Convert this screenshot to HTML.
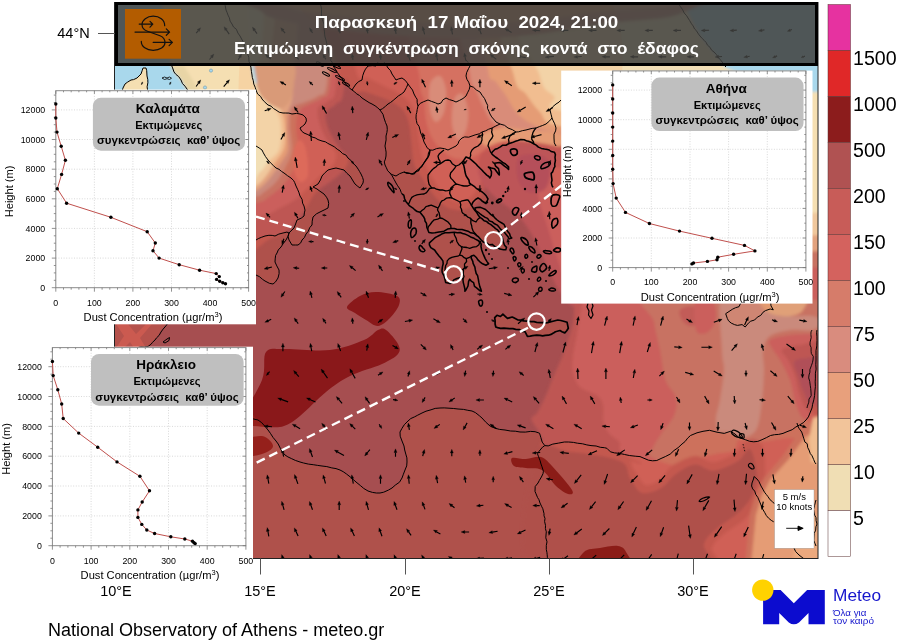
<!DOCTYPE html>
<html lang="el"><head><meta charset="utf-8"><title>Εκτιμώμενη συγκέντρωση σκόνης</title>
<style>
html,body{margin:0;padding:0;background:#fff;}
body{width:903px;height:641px;overflow:hidden;font-family:"Liberation Sans", sans-serif;}
svg{display:block;position:absolute;left:0;top:0;}
text{font-family:"Liberation Sans", sans-serif;}
</style></head><body>
<svg width="903" height="641" viewBox="0 0 903 641">
<defs><clipPath id="mapclip"><rect x="115" y="2" width="703" height="556.8"/></clipPath><filter id="bl" x="-5%" y="-5%" width="110%" height="110%"><feGaussianBlur stdDeviation="1.6"/></filter></defs>
<g clip-path="url(#mapclip)">
<rect x="100" y="0" width="730" height="570" fill="#a64e50"/>
<g filter="url(#bl)">
<path d="M215.0,-10.0 C237.5,-53.0 328.5,-26.3 350.0,-10.0 C371.5,6.3 346.3,69.0 344.0,88.0 C341.7,107.0 339.0,100.0 336.0,104.0 C333.0,108.0 327.3,108.0 326.0,112.0 C324.7,116.0 326.0,122.3 328.0,128.0 C330.0,133.7 334.7,141.0 338.0,146.0 C341.3,151.0 347.0,154.0 348.0,158.0 C349.0,162.0 347.0,166.0 344.0,170.0 C341.0,174.0 334.7,178.3 330.0,182.0 C325.3,185.7 320.0,187.7 316.0,192.0 C312.0,196.3 310.0,202.3 306.0,208.0 C302.0,213.7 297.7,221.0 292.0,226.0 C286.3,231.0 284.8,234.3 272.0,238.0 C259.2,241.7 224.5,289.3 215.0,248.0 C205.5,206.7 192.5,33.0 215.0,-10.0Z" fill="#be5753" />
<path d="M215.0,-10.0 C235.8,-48.7 319.8,-26.0 340.0,-10.0 C360.2,6.0 338.0,67.5 336.0,86.0 C334.0,104.5 331.0,97.3 328.0,101.0 C325.0,104.7 319.3,104.0 318.0,108.0 C316.7,112.0 318.3,119.3 320.0,125.0 C321.7,130.7 325.3,137.2 328.0,142.0 C330.7,146.8 335.3,150.0 336.0,154.0 C336.7,158.0 334.7,162.3 332.0,166.0 C329.3,169.7 324.0,172.3 320.0,176.0 C316.0,179.7 312.0,184.2 308.0,188.0 C304.0,191.8 300.7,195.7 296.0,199.0 C291.3,202.3 285.7,205.2 280.0,208.0 C274.3,210.8 272.8,213.7 262.0,216.0 C251.2,218.3 222.8,259.7 215.0,222.0 C207.2,184.3 194.2,28.7 215.0,-10.0Z" fill="#cb5f5c" />
<path d="M215.0,-10.0 C234.8,-46.0 314.8,-25.7 334.0,-10.0 C353.2,5.7 332.0,66.0 330.0,84.0 C328.0,102.0 325.3,94.7 322.0,98.0 C318.7,101.3 313.7,102.0 310.0,104.0 C306.3,106.0 302.3,106.5 300.0,110.0 C297.7,113.5 296.3,118.3 296.0,125.0 C295.7,131.7 298.3,142.8 298.0,150.0 C297.7,157.2 296.3,162.3 294.0,168.0 C291.7,173.7 288.0,179.3 284.0,184.0 C280.0,188.7 274.7,192.8 270.0,196.0 C265.3,199.2 265.2,201.3 256.0,203.0 C246.8,204.7 221.8,241.5 215.0,206.0 C208.2,170.5 195.2,26.0 215.0,-10.0Z" fill="#c87262" />
<path d="M215.0,-10.0 C234.2,-45.0 311.3,-25.3 330.0,-10.0 C348.7,5.3 329.0,64.3 327.0,82.0 C325.0,99.7 321.7,92.7 318.0,96.0 C314.3,99.3 309.3,100.0 305.0,102.0 C300.7,104.0 294.5,104.2 292.0,108.0 C289.5,111.8 290.0,118.0 290.0,125.0 C290.0,132.0 292.7,143.2 292.0,150.0 C291.3,156.8 288.7,160.7 286.0,166.0 C283.3,171.3 279.7,177.7 276.0,182.0 C272.3,186.3 267.7,189.5 264.0,192.0 C260.3,194.5 262.2,195.7 254.0,197.0 C245.8,198.3 221.5,234.5 215.0,200.0 C208.5,165.5 195.8,25.0 215.0,-10.0Z" fill="#ca8a7c" />
<path d="M215.0,-10.0 C227.8,-44.0 279.0,-25.0 292.0,-10.0 C305.0,5.0 293.0,61.7 293.0,80.0 C293.0,98.3 292.8,94.7 292.0,100.0 C291.2,105.3 288.8,107.0 288.0,112.0 C287.2,117.0 287.0,123.7 287.0,130.0 C287.0,136.3 289.2,144.3 288.0,150.0 C286.8,155.7 283.0,159.3 280.0,164.0 C277.0,168.7 273.3,174.0 270.0,178.0 C266.7,182.0 263.3,185.7 260.0,188.0 C256.7,190.3 257.5,191.0 250.0,192.0 C242.5,193.0 220.8,227.7 215.0,194.0 C209.2,160.3 202.2,24.0 215.0,-10.0Z" fill="#e2a27e" />
<path d="M215.0,-10.0 C220.3,-43.3 263.2,-25.0 272.0,-10.0 C280.8,5.0 268.0,61.7 268.0,80.0 C268.0,98.3 269.7,94.7 272.0,100.0 C274.3,105.3 279.8,107.3 282.0,112.0 C284.2,116.7 284.7,122.0 285.0,128.0 C285.3,134.0 285.8,142.0 284.0,148.0 C282.2,154.0 277.0,159.3 274.0,164.0 C271.0,168.7 269.0,172.3 266.0,176.0 C263.0,179.7 260.3,183.7 256.0,186.0 C251.7,188.3 246.8,222.7 240.0,190.0 C233.2,157.3 209.7,23.3 215.0,-10.0Z" fill="#f0c79c" />
<path d="M215.0,-10.0 C218.7,-41.7 254.8,-25.7 262.0,-10.0 C269.2,5.7 257.3,65.3 258.0,84.0 C258.7,102.7 262.7,97.0 266.0,102.0 C269.3,107.0 275.5,109.3 278.0,114.0 C280.5,118.7 280.8,124.0 281.0,130.0 C281.2,136.0 281.2,144.7 279.0,150.0 C276.8,155.3 271.2,158.3 268.0,162.0 C264.8,165.7 264.7,169.0 260.0,172.0 C255.3,175.0 247.5,210.3 240.0,180.0 C232.5,149.7 211.3,21.7 215.0,-10.0Z" fill="#f2dfb6" />
<path d="M252.0,64.0 C258.2,61.3 285.0,60.7 292.0,64.0 C299.0,67.3 294.3,78.0 294.0,84.0 C293.7,90.0 292.0,96.0 290.0,100.0 C288.0,104.0 285.3,107.3 282.0,108.0 C278.7,108.7 273.7,106.3 270.0,104.0 C266.3,101.7 262.5,98.0 260.0,94.0 C257.5,90.0 256.3,85.0 255.0,80.0 C253.7,75.0 245.8,66.7 252.0,64.0Z" fill="#d99a78" />
<path d="M294.0,150.0 C295.0,145.0 298.0,140.0 300.0,140.0 C302.0,140.0 304.7,144.2 306.0,150.0 C307.3,155.8 309.0,169.7 308.0,175.0 C307.0,180.3 302.3,182.8 300.0,182.0 C297.7,181.2 295.0,175.3 294.0,170.0 C293.0,164.7 293.0,155.0 294.0,150.0Z" fill="#da6a60" />
<polygon points="100,-10 246,-10 250,40 251,67 256,90 262,99 262,112 100,112" fill="#f5dfb2" />
<polygon points="100,-10 160,-10 171,66 174,72 181,80 188,92 100,92" fill="#a9d8ec" />
<polygon points="171,66 184,66 200,92 188,92 181,80 174,72" fill="#e8d5a6" />
<polygon points="251,60 254,66 257,84 254,82 252,72" fill="#a9d8ec" />
<path d="M336.0,-10.0 C378.0,-25.3 556.0,-38.3 600.0,-10.0 C644.0,18.3 606.7,133.3 600.0,160.0 C593.3,186.7 573.3,152.3 560.0,150.0 C546.7,147.7 530.0,146.0 520.0,146.0 C510.0,146.0 504.7,146.0 500.0,150.0 C495.3,154.0 494.7,163.3 492.0,170.0 C489.3,176.7 486.7,184.3 484.0,190.0 C481.3,195.7 479.7,200.7 476.0,204.0 C472.3,207.3 466.7,209.3 462.0,210.0 C457.3,210.7 452.0,209.7 448.0,208.0 C444.0,206.3 441.0,203.0 438.0,200.0 C435.0,197.0 432.7,193.7 430.0,190.0 C427.3,186.3 424.7,182.3 422.0,178.0 C419.3,173.7 415.8,170.3 414.0,164.0 C412.2,157.7 411.8,146.7 411.0,140.0 C410.2,133.3 410.3,129.0 409.0,124.0 C407.7,119.0 406.5,114.0 403.0,110.0 C399.5,106.0 394.2,103.0 388.0,100.0 C381.8,97.0 372.7,95.0 366.0,92.0 C359.3,89.0 353.0,99.0 348.0,82.0 C343.0,65.0 294.0,5.3 336.0,-10.0Z" fill="#be5753" />
<path d="M352.0,-10.0 C392.7,-23.3 558.7,-36.7 600.0,-10.0 C641.3,16.7 606.7,124.3 600.0,150.0 C593.3,175.7 573.3,145.3 560.0,144.0 C546.7,142.7 530.3,141.7 520.0,142.0 C509.7,142.3 503.3,142.0 498.0,146.0 C492.7,150.0 491.0,159.7 488.0,166.0 C485.0,172.3 483.0,178.7 480.0,184.0 C477.0,189.3 473.7,195.0 470.0,198.0 C466.3,201.0 461.7,202.0 458.0,202.0 C454.3,202.0 451.0,200.0 448.0,198.0 C445.0,196.0 442.3,193.0 440.0,190.0 C437.7,187.0 436.2,183.7 434.0,180.0 C431.8,176.3 429.0,172.0 427.0,168.0 C425.0,164.0 423.3,160.7 422.0,156.0 C420.7,151.3 419.8,145.3 419.0,140.0 C418.2,134.7 418.2,129.7 417.0,124.0 C415.8,118.3 414.8,111.0 412.0,106.0 C409.2,101.0 404.7,97.3 400.0,94.0 C395.3,90.7 389.3,88.7 384.0,86.0 C378.7,83.3 372.7,80.7 368.0,78.0 C363.3,75.3 358.7,84.7 356.0,70.0 C353.3,55.3 311.3,3.3 352.0,-10.0Z" fill="#cb5f5c" />
<path d="M420.0,-10.0 C450.0,-25.0 570.0,-36.0 600.0,-10.0 C630.0,16.0 606.7,121.0 600.0,146.0 C593.3,171.0 573.3,141.7 560.0,140.0 C546.7,138.3 530.3,136.3 520.0,136.0 C509.7,135.7 504.0,135.7 498.0,138.0 C492.0,140.3 488.7,146.7 484.0,150.0 C479.3,153.3 475.0,156.7 470.0,158.0 C465.0,159.3 458.7,159.3 454.0,158.0 C449.3,156.7 445.7,153.3 442.0,150.0 C438.3,146.7 434.7,143.0 432.0,138.0 C429.3,133.0 427.3,126.3 426.0,120.0 C424.7,113.7 425.0,106.7 424.0,100.0 C423.0,93.3 420.7,98.3 420.0,80.0 C419.3,61.7 390.0,5.0 420.0,-10.0Z" fill="#d17267" />
<path d="M430.0,84.0 C431.7,78.3 437.3,75.0 440.0,76.0 C442.7,77.0 445.3,84.0 446.0,90.0 C446.7,96.0 445.7,106.7 444.0,112.0 C442.3,117.3 438.3,122.3 436.0,122.0 C433.7,121.7 431.0,116.3 430.0,110.0 C429.0,103.7 428.3,89.7 430.0,84.0Z" fill="#d59083" />
<path d="M454.0,100.0 C455.7,95.0 459.7,92.3 462.0,94.0 C464.3,95.7 467.3,104.0 468.0,110.0 C468.7,116.0 467.7,125.0 466.0,130.0 C464.3,135.0 460.3,141.0 458.0,140.0 C455.7,139.0 452.7,130.7 452.0,124.0 C451.3,117.3 452.3,105.0 454.0,100.0Z" fill="#d59083" />
<path d="M464.0,-10.0 C485.7,-24.0 577.3,-35.0 600.0,-10.0 C622.7,15.0 606.7,115.7 600.0,140.0 C593.3,164.3 572.0,137.7 560.0,136.0 C548.0,134.3 537.0,131.3 528.0,130.0 C519.0,128.7 512.0,129.3 506.0,128.0 C500.0,126.7 495.7,125.3 492.0,122.0 C488.3,118.7 486.7,113.3 484.0,108.0 C481.3,102.7 478.3,95.7 476.0,90.0 C473.7,84.3 472.0,90.7 470.0,74.0 C468.0,57.3 442.3,4.0 464.0,-10.0Z" fill="#d59083" />
<path d="M484.0,-10.0 C509.3,-23.3 614.0,-34.3 640.0,-10.0 C666.0,14.3 653.3,112.3 640.0,136.0 C626.7,159.7 578.0,134.0 560.0,132.0 C542.0,130.0 539.3,127.3 532.0,124.0 C524.7,120.7 520.3,116.7 516.0,112.0 C511.7,107.3 509.3,101.0 506.0,96.0 C502.7,91.0 499.0,86.3 496.0,82.0 C493.0,77.7 490.0,85.3 488.0,70.0 C486.0,54.7 458.7,3.3 484.0,-10.0Z" fill="#e2a27e" />
<path d="M504.0,-10.0 C528.3,-24.3 634.0,-33.3 660.0,-10.0 C686.0,13.3 676.7,107.3 660.0,130.0 C643.3,152.7 580.0,129.0 560.0,126.0 C540.0,123.0 545.7,117.3 540.0,112.0 C534.3,106.7 530.3,100.0 526.0,94.0 C521.7,88.0 517.7,93.3 514.0,76.0 C510.3,58.7 479.7,4.3 504.0,-10.0Z" fill="#f0c79c" />
<path d="M530.0,-10.0 C579.2,-24.3 784.2,-47.5 835.0,-10.0 C885.8,27.5 840.8,177.5 835.0,215.0 C829.2,252.5 805.8,230.8 800.0,215.0 C794.2,199.2 838.0,137.2 800.0,120.0 C762.0,102.8 613.0,116.0 572.0,112.0 C531.0,108.0 559.3,102.0 554.0,96.0 C548.7,90.0 544.0,93.7 540.0,76.0 C536.0,58.3 480.8,4.3 530.0,-10.0Z" fill="#f2dfb6" />
<polygon points="676,-10 835,-10 835,92 800,92 760,80 726,68 700,36" fill="#a9d8ec" />
<path d="M480.0,136.0 C482.3,133.0 491.7,129.0 500.0,128.0 C508.3,127.0 519.7,129.0 530.0,130.0 C540.3,131.0 556.7,131.3 562.0,134.0 C567.3,136.7 565.7,144.5 562.0,146.0 C558.3,147.5 547.0,144.0 540.0,143.0 C533.0,142.0 526.7,140.2 520.0,140.0 C513.3,139.8 505.7,141.0 500.0,142.0 C494.3,143.0 489.3,147.0 486.0,146.0 C482.7,145.0 477.7,139.0 480.0,136.0Z" fill="#e2a27e" />
<path d="M486.0,150.0 C493.0,146.8 507.3,146.0 520.0,146.0 C532.7,146.0 552.0,141.0 562.0,150.0 C572.0,159.0 577.0,175.7 580.0,200.0 C583.0,224.3 581.0,278.3 580.0,296.0 C579.0,313.7 576.3,305.3 574.0,306.0 C571.7,306.7 569.0,303.5 566.0,300.0 C563.0,296.5 559.5,291.3 556.0,285.0 C552.5,278.7 548.5,269.5 545.0,262.0 C541.5,254.5 538.8,247.0 535.0,240.0 C531.2,233.0 526.5,225.5 522.0,220.0 C517.5,214.5 512.5,210.8 508.0,207.0 C503.5,203.2 499.3,201.2 495.0,197.0 C490.7,192.8 484.8,187.3 482.0,182.0 C479.2,176.7 477.3,170.3 478.0,165.0 C478.7,159.7 479.0,153.2 486.0,150.0Z" fill="#bd5559" />
<path d="M540.0,180.0 C543.7,174.7 554.0,165.3 561.0,168.0 C568.0,170.7 578.5,174.7 582.0,196.0 C585.5,217.3 584.0,279.3 582.0,296.0 C580.0,312.7 573.5,300.3 570.0,296.0 C566.5,291.7 563.8,278.5 561.0,270.0 C558.2,261.5 555.5,253.0 553.0,245.0 C550.5,237.0 548.3,229.5 546.0,222.0 C543.7,214.5 540.0,207.0 539.0,200.0 C538.0,193.0 536.3,185.3 540.0,180.0Z" fill="#cb5f5c" />
<path d="M518.0,158.0 C520.7,153.7 529.0,153.7 534.0,154.0 C539.0,154.3 545.3,156.3 548.0,160.0 C550.7,163.7 550.7,171.0 550.0,176.0 C549.3,181.0 547.7,187.3 544.0,190.0 C540.3,192.7 532.3,193.7 528.0,192.0 C523.7,190.3 519.7,185.7 518.0,180.0 C516.3,174.3 515.3,162.3 518.0,158.0Z" fill="#b5505a" />
<path d="M574.0,288.0 C578.3,285.0 556.5,286.3 600.0,286.0 C643.5,285.7 795.8,255.3 835.0,286.0 C874.2,316.7 867.5,439.3 835.0,470.0 C802.5,500.7 677.5,472.0 640.0,470.0 C602.5,468.0 620.0,461.0 610.0,458.0 C600.0,455.0 588.3,453.7 580.0,452.0 C571.7,450.3 566.2,450.2 560.0,448.0 C553.8,445.8 546.7,441.6 543.0,438.5 C539.3,435.4 539.6,432.9 537.7,429.6 C535.8,426.4 531.5,421.9 531.5,419.0 C531.5,416.1 535.2,416.2 537.7,412.0 C540.2,407.8 544.2,399.3 546.6,394.0 C549.0,388.7 549.1,387.0 552.0,380.0 C554.9,373.0 560.5,361.5 564.0,352.0 C567.5,342.5 571.3,331.0 573.0,323.0 C574.7,315.0 573.8,309.8 574.0,304.0 C574.2,298.2 569.7,291.0 574.0,288.0Z" fill="#be5753" />
<path d="M582.0,288.0 C585.0,285.0 557.8,286.3 600.0,286.0 C642.2,285.7 795.8,256.0 835.0,286.0 C874.2,316.0 864.2,436.0 835.0,466.0 C805.8,496.0 692.5,466.7 660.0,466.0 C627.5,465.3 646.5,464.5 640.0,462.0 C633.5,459.5 624.5,454.3 621.0,451.0 C617.5,447.7 621.3,445.0 619.3,442.0 C617.2,439.0 611.4,436.5 608.7,433.0 C606.0,429.5 604.2,425.2 603.3,420.8 C602.4,416.4 604.2,410.7 603.3,406.6 C602.4,402.5 601.9,399.3 598.0,396.0 C594.1,392.7 584.2,391.0 580.0,387.0 C575.8,383.0 574.2,377.2 573.0,372.0 C571.8,366.8 572.3,362.3 573.0,356.0 C573.7,349.7 575.5,342.7 577.0,334.0 C578.5,325.3 580.9,311.7 581.7,304.0 C582.5,296.3 579.0,291.0 582.0,288.0Z" fill="#cb5f5c" />
<path d="M652.0,290.0 C682.2,284.7 804.5,265.0 835.0,290.0 C865.5,315.0 842.5,415.3 835.0,440.0 C827.5,464.7 802.5,437.7 790.0,438.0 C777.5,438.3 769.2,441.7 760.0,442.0 C750.8,442.3 742.5,439.7 735.0,440.0 C727.5,440.3 722.5,442.0 715.0,444.0 C707.5,446.0 697.8,449.3 690.0,452.0 C682.2,454.7 674.5,459.3 668.0,460.0 C661.5,460.7 653.5,458.1 651.0,456.0 C648.5,453.9 651.2,451.2 653.0,447.4 C654.8,443.6 658.3,438.3 661.8,433.0 C665.3,427.7 671.6,421.4 674.0,415.5 C676.4,409.6 677.4,403.6 676.0,397.7 C674.6,391.8 668.1,387.9 665.4,380.0 C662.7,372.1 661.9,359.7 660.0,350.0 C658.1,340.3 655.3,332.0 654.0,322.0 C652.7,312.0 621.8,295.3 652.0,290.0Z" fill="#c87262" />
<path d="M723.0,290.0 C729.7,280.0 754.2,286.3 762.0,290.0 C769.8,293.7 765.3,307.7 770.0,312.0 C774.7,316.3 783.0,315.3 790.0,316.0 C797.0,316.7 806.7,315.0 812.0,316.0 C817.3,317.0 822.0,319.7 822.0,322.0 C822.0,324.3 817.3,328.7 812.0,330.0 C806.7,331.3 797.0,329.0 790.0,330.0 C783.0,331.0 774.5,332.7 770.0,336.0 C765.5,339.3 764.0,344.3 763.0,350.0 C762.0,355.7 764.2,361.7 764.0,370.0 C763.8,378.3 763.3,390.0 762.0,400.0 C760.7,410.0 759.7,423.7 756.0,430.0 C752.3,436.3 745.7,437.0 740.0,438.0 C734.3,439.0 726.0,439.0 722.0,436.0 C718.0,433.0 716.3,426.0 716.0,420.0 C715.7,414.0 718.7,408.3 720.0,400.0 C721.3,391.7 723.7,378.3 724.0,370.0 C724.3,361.7 722.2,363.3 722.0,350.0 C721.8,336.7 716.3,300.0 723.0,290.0Z" fill="#ca8a7c" />
<path d="M758.0,290.0 C765.3,287.3 798.5,286.7 806.0,290.0 C813.5,293.3 805.7,305.7 803.0,310.0 C800.3,314.3 795.2,315.3 790.0,316.0 C784.8,316.7 776.7,315.7 772.0,314.0 C767.3,312.3 764.3,310.0 762.0,306.0 C759.7,302.0 750.7,292.7 758.0,290.0Z" fill="#e0a078" />
<path d="M680.0,310.0 C681.7,307.7 688.3,305.7 692.0,306.0 C695.7,306.3 700.7,309.3 702.0,312.0 C703.3,314.7 702.0,319.7 700.0,322.0 C698.0,324.3 693.0,326.3 690.0,326.0 C687.0,325.7 683.7,322.7 682.0,320.0 C680.3,317.3 678.3,312.3 680.0,310.0Z" fill="#c25c58" />
<path d="M696.0,296.0 C698.7,291.0 708.7,296.3 712.0,300.0 C715.3,303.7 716.7,312.7 716.0,318.0 C715.3,323.3 711.3,330.0 708.0,332.0 C704.7,334.0 698.0,336.0 696.0,330.0 C694.0,324.0 693.3,301.0 696.0,296.0Z" fill="#cb5f5c" />
<path d="M770.0,340.0 C773.0,337.8 783.0,336.0 790.0,335.0 C797.0,334.0 804.5,334.2 812.0,334.0 C819.5,333.8 831.2,319.3 835.0,334.0 C838.8,348.7 839.8,407.7 835.0,422.0 C830.2,436.3 812.5,423.0 806.0,420.0 C799.5,417.0 798.7,410.7 796.0,404.0 C793.3,397.3 792.7,387.3 790.0,380.0 C787.3,372.7 783.0,365.3 780.0,360.0 C777.0,354.7 773.7,351.3 772.0,348.0 C770.3,344.7 767.0,342.2 770.0,340.0Z" fill="#cb5f5c" />
<path d="M782.0,350.0 C784.0,347.5 791.2,345.8 800.0,345.0 C808.8,344.2 829.2,333.5 835.0,345.0 C840.8,356.5 839.2,402.8 835.0,414.0 C830.8,425.2 815.8,415.0 810.0,412.0 C804.2,409.0 802.5,402.0 800.0,396.0 C797.5,390.0 797.0,382.0 795.0,376.0 C793.0,370.0 790.2,364.3 788.0,360.0 C785.8,355.7 780.0,352.5 782.0,350.0Z" fill="#be5753" />
<path d="M794.0,362.0 C795.3,359.0 799.2,358.7 806.0,358.0 C812.8,357.3 830.2,349.8 835.0,358.0 C839.8,366.2 838.8,399.2 835.0,407.0 C831.2,414.8 817.3,407.7 812.0,405.0 C806.7,402.3 805.3,395.8 803.0,391.0 C800.7,386.2 799.5,380.8 798.0,376.0 C796.5,371.2 792.7,365.0 794.0,362.0Z" fill="#b05058" />
<polygon points="600,452 640,464 680,450 720,440 760,442 800,438 830,432 830,570 600,570" fill="#cb5f5c" />
<path d="M648.0,454.0 C647.3,451.0 657.0,448.7 664.0,446.0 C671.0,443.3 680.7,440.3 690.0,438.0 C699.3,435.7 712.3,432.3 720.0,432.0 C727.7,431.7 733.7,433.0 736.0,436.0 C738.3,439.0 737.3,447.0 734.0,450.0 C730.7,453.0 721.7,452.7 716.0,454.0 C710.3,455.3 705.0,456.3 700.0,458.0 C695.0,459.7 691.3,463.0 686.0,464.0 C680.7,465.0 674.3,465.7 668.0,464.0 C661.7,462.3 648.7,457.0 648.0,454.0Z" fill="#c87262" />
<path d="M540.0,447.0 C545.2,425.3 557.3,444.0 571.0,445.0 C584.7,446.0 611.5,448.8 622.0,453.0 C632.5,457.2 630.3,464.8 634.0,470.0 C637.7,475.2 641.0,481.7 644.0,484.0 C647.0,486.3 649.0,485.0 652.0,484.0 C655.0,483.0 658.7,481.0 662.0,478.0 C665.3,475.0 666.5,469.7 672.0,466.0 C677.5,462.3 688.2,456.7 695.0,456.0 C701.8,455.3 706.5,462.3 713.0,462.0 C719.5,461.7 728.2,457.7 734.0,454.0 C739.8,450.3 743.3,441.5 748.0,440.0 C752.7,438.5 759.2,439.0 762.0,445.0 C764.8,451.0 765.5,466.8 765.0,476.0 C764.5,485.2 762.3,492.8 759.0,500.0 C755.7,507.2 750.8,513.3 745.0,519.0 C739.2,524.7 729.5,529.2 724.0,534.0 C718.5,538.8 714.5,541.2 712.0,548.0 C709.5,554.8 737.7,570.5 709.0,575.0 C680.3,579.5 568.2,596.3 540.0,575.0 C511.8,553.7 534.8,468.7 540.0,447.0Z" fill="#be5753" />
<path d="M536.0,455.0 C541.8,434.5 557.0,451.0 571.0,452.0 C585.0,453.0 610.2,456.7 620.0,461.0 C629.8,465.3 626.7,472.8 630.0,478.0 C633.3,483.2 636.3,489.7 640.0,492.0 C643.7,494.3 648.0,493.0 652.0,492.0 C656.0,491.0 660.0,489.0 664.0,486.0 C668.0,483.0 670.8,477.6 676.0,474.0 C681.2,470.4 688.7,465.1 695.0,464.5 C701.3,463.9 706.4,471.3 713.6,470.7 C720.8,470.1 731.9,464.6 738.0,461.0 C744.1,457.4 746.8,446.5 750.0,449.0 C753.2,451.5 756.8,467.9 757.0,476.0 C757.2,484.1 754.2,491.3 751.0,497.5 C747.8,503.7 743.7,507.8 738.0,513.0 C732.3,518.2 722.7,523.3 717.0,528.5 C711.3,533.7 706.7,536.2 704.0,544.0 C701.3,551.8 729.0,569.8 701.0,575.0 C673.0,580.2 563.5,595.0 536.0,575.0 C508.5,555.0 530.2,475.5 536.0,455.0Z" fill="#a64e50" />
<polygon points="798,434 781,458 764,478 756,493 750,513 744,575 835,575 835,425" fill="#c87262" />
<polygon points="806,436 788,460 770,480 762,495 756,515 750,575 835,575 835,428" fill="#e2a27e" />
<polygon points="813,418 809,440 811,462 835,466 835,412" fill="#f0c79c" />
<polygon points="800,520 835,510 835,575 790,575" fill="#eab088" />
<path d="M262.0,-14.0 C331.7,-18.3 610.3,-18.7 680.0,-14.0 C749.7,-9.3 693.3,7.7 680.0,14.0 C666.7,20.3 623.3,20.7 600.0,24.0 C576.7,27.3 560.0,31.7 540.0,34.0 C520.0,36.3 501.7,37.7 480.0,38.0 C458.3,38.3 433.3,37.3 410.0,36.0 C386.7,34.7 360.0,32.3 340.0,30.0 C320.0,27.7 303.0,25.0 290.0,22.0 C277.0,19.0 266.7,18.0 262.0,12.0 C257.3,6.0 192.3,-9.7 262.0,-14.0Z" fill="#ca8a7c" />
<path d="M262.0,-14.0 C327.0,-17.7 610.3,-17.0 680.0,-14.0 C749.7,-11.0 693.3,-0.3 680.0,4.0 C666.7,8.3 623.3,9.3 600.0,12.0 C576.7,14.7 560.0,18.0 540.0,20.0 C520.0,22.0 501.7,23.7 480.0,24.0 C458.3,24.3 433.3,23.3 410.0,22.0 C386.7,20.7 360.0,18.3 340.0,16.0 C320.0,13.7 303.0,13.0 290.0,8.0 C277.0,3.0 197.0,-10.3 262.0,-14.0Z" fill="#e2a27e" />
<polygon points="806,60 835,60 835,92 806,92" fill="#a9d8ec" />
<polygon points="806,92 835,92 835,216 806,216" fill="#f5dfb2" />
<polygon points="806,214 835,210 835,236 806,238" fill="#f0c79c" />
<polygon points="806,236 835,234 835,252 806,254" fill="#e2a27e" />
<polygon points="806,252 835,250 835,268 806,270" fill="#c87262" />
<polygon points="806,268 835,266 835,300 806,300" fill="#cb5f5c" />
</g>
<path d="M240.0,420.0 C243.7,412.7 257.7,391.3 262.0,380.0 C266.3,368.7 262.3,357.2 266.0,352.0 C269.7,346.8 273.3,349.3 284.0,349.0 C294.7,348.7 316.7,351.5 330.0,350.0 C343.3,348.5 356.0,343.3 364.0,340.0 C372.0,336.7 374.3,331.7 378.0,330.0 C381.7,328.3 382.7,327.7 386.0,330.0 C389.3,332.3 396.0,340.0 398.0,344.0 C400.0,348.0 400.7,350.7 398.0,354.0 C395.3,357.3 390.0,360.3 382.0,364.0 C374.0,367.7 359.3,371.3 350.0,376.0 C340.7,380.7 334.3,385.3 326.0,392.0 C317.7,398.7 307.0,410.3 300.0,416.0 C293.0,421.7 289.3,424.2 284.0,426.0 C278.7,427.8 275.3,427.3 268.0,427.0 C260.7,426.7 244.7,425.2 240.0,424.0 C235.3,422.8 236.3,427.3 240.0,420.0Z" fill="#8a181a" /><path d="M347.0,307.0 C347.8,304.2 355.2,298.5 360.0,296.0 C364.8,293.5 369.8,292.0 376.0,292.0 C382.2,292.0 393.2,293.8 397.0,296.0 C400.8,298.2 400.2,301.3 399.0,305.0 C397.8,308.7 393.5,314.5 390.0,318.0 C386.5,321.5 382.0,325.7 378.0,326.0 C374.0,326.3 369.8,322.2 366.0,320.0 C362.2,317.8 358.2,315.2 355.0,313.0 C351.8,310.8 346.2,309.8 347.0,307.0Z" fill="#8a181a" /><path d="M240.0,442.0 C243.7,438.7 256.5,435.3 262.0,436.0 C267.5,436.7 273.0,443.0 273.0,446.0 C273.0,449.0 267.5,452.3 262.0,454.0 C256.5,455.7 243.7,458.0 240.0,456.0 C236.3,454.0 236.3,445.3 240.0,442.0Z" fill="#8a181a" /><path d="M512.0,458.0 C514.0,456.8 521.2,459.2 526.0,459.0 C530.8,458.8 536.7,455.8 541.0,457.0 C545.3,458.2 546.8,460.5 552.0,466.0 C557.2,471.5 569.3,485.3 572.0,490.0 C574.7,494.7 570.7,494.7 568.0,494.0 C565.3,493.3 560.3,490.0 556.0,486.0 C551.7,482.0 547.0,473.0 542.0,470.0 C537.0,467.0 530.7,468.7 526.0,468.0 C521.3,467.3 516.3,467.7 514.0,466.0 C511.7,464.3 510.0,459.2 512.0,458.0Z" fill="#7e1416" /><path d="M578.0,570.0 C570.3,567.0 580.3,555.7 584.0,552.0 C587.7,548.3 594.3,549.0 600.0,548.0 C605.7,547.0 613.7,545.3 618.0,546.0 C622.3,546.7 624.0,548.0 626.0,552.0 C628.0,556.0 638.0,567.0 630.0,570.0 C622.0,573.0 585.7,573.0 578.0,570.0Z" fill="#7e1416" /><polygon points="100,320 168,320 160,332 155,340 148,347 138,350 100,350" fill="#b5524c" /><polygon points="116,324 128,324 136,334 146,324 152,324 140,338 146,348 134,348 130,342 124,348 116,348 124,336" fill="#cb5a50" />
<path d="M122.0,92.0 C122.5,90.7 123.5,86.0 125.0,84.0 C126.5,82.0 129.0,81.0 131.0,80.0 C133.0,79.0 135.3,79.0 137.0,78.0 C138.7,77.0 140.0,75.7 141.0,74.0 C142.0,72.3 142.2,69.0 143.0,68.0 C143.8,67.0 145.3,66.7 146.0,68.0 C146.7,69.3 146.7,72.0 147.0,76.0 C147.3,80.0 147.8,89.3 148.0,92.0 L148,95 L122,95 Z" fill="#f5dfb2" stroke="none"/>
<g fill="#ff6b28" fill-opacity="0.10"><path d="M240.0,418.0 C243.0,393.0 253.3,418.0 258.0,420.0 C262.7,422.0 265.0,426.5 268.0,430.0 C271.0,433.5 273.2,436.8 276.0,441.0 C278.8,445.2 281.0,451.5 285.0,455.0 C289.0,458.5 293.8,460.2 300.0,462.0 C306.2,463.8 315.3,464.7 322.0,466.0 C328.7,467.3 334.3,467.3 340.0,470.0 C345.7,472.7 351.3,478.5 356.0,482.0 C360.7,485.5 364.0,489.2 368.0,491.0 C372.0,492.8 376.0,493.5 380.0,493.0 C384.0,492.5 388.3,490.5 392.0,488.0 C395.7,485.5 399.5,482.3 402.0,478.0 C404.5,473.7 406.7,467.3 407.0,462.0 C407.3,456.7 405.2,451.0 404.0,446.0 C402.8,441.0 399.3,436.2 400.0,432.0 C400.7,427.8 404.3,424.2 408.0,421.0 C411.7,417.8 416.7,415.2 422.0,413.0 C427.3,410.8 434.0,408.7 440.0,408.0 C446.0,407.3 452.7,408.5 458.0,409.0 C463.3,409.5 468.0,409.5 472.0,411.0 C476.0,412.5 479.0,415.5 482.0,418.0 C485.0,420.5 486.2,424.0 490.0,426.0 C493.8,428.0 500.0,429.0 505.0,430.0 C510.0,431.0 515.7,431.8 520.0,432.0 C524.3,432.2 527.4,431.2 530.6,431.4 C533.9,431.6 537.1,430.8 539.5,433.2 C541.9,435.6 540.7,444.1 544.8,445.6 C548.9,447.1 556.6,442.0 564.3,442.0 C572.0,442.0 583.9,444.6 591.0,445.6 C598.1,446.7 603.7,447.3 606.9,448.3 C610.1,449.3 607.4,450.8 610.4,451.8 C613.4,452.8 619.7,453.7 624.6,454.5 C629.5,455.3 635.3,455.6 640.0,456.6 C644.7,457.7 648.4,460.8 652.6,460.8 C656.8,460.8 661.7,458.3 665.3,456.6 C668.9,454.9 671.2,452.6 674.0,450.5 C676.8,448.4 679.2,446.5 682.0,444.0 C684.8,441.5 688.0,437.4 690.5,435.5 C693.0,433.6 694.9,433.5 697.0,432.8 C699.1,432.1 700.9,431.7 703.0,431.3 C705.1,430.9 707.2,430.2 709.5,430.3 C711.8,430.4 714.5,431.7 717.0,432.2 C719.5,432.7 722.0,433.5 724.2,433.4 C726.5,433.2 728.7,431.2 730.5,431.3 C732.3,431.4 733.6,432.9 735.0,434.0 C736.4,435.1 737.3,436.7 739.0,437.6 C740.7,438.6 742.8,439.0 745.3,439.7 C747.8,440.4 750.9,441.8 753.7,441.8 C756.5,441.8 759.2,440.8 762.0,439.7 C764.8,438.6 767.0,436.6 770.5,435.5 C774.0,434.4 778.8,434.8 783.0,433.4 C787.2,432.0 792.0,429.2 795.8,427.0 C799.6,424.8 803.3,423.2 806.0,420.0 C808.7,416.8 810.5,413.0 812.0,408.0 C813.5,403.0 814.3,398.0 815.0,390.0 C815.7,382.0 815.7,370.0 816.0,360.0 C816.3,350.0 814.7,335.0 817.0,330.0 C819.3,325.0 827.8,290.0 830.0,330.0 C832.2,370.0 928.3,530.0 830.0,570.0 C731.7,610.0 338.3,595.3 240.0,570.0 C141.7,544.7 237.0,443.0 240.0,418.0Z"/><path d="M240.0,60.0 C241.7,45.7 248.0,61.5 250.0,64.0 C252.0,66.5 251.0,70.7 252.0,75.0 C253.0,79.3 254.3,86.0 256.0,90.0 C257.7,94.0 260.0,96.5 262.0,99.0 C264.0,101.5 265.7,103.2 268.0,105.0 C270.3,106.8 273.5,108.7 276.0,110.0 C278.5,111.3 280.3,112.3 283.0,113.0 C285.7,113.7 289.2,113.8 292.0,114.0 C294.8,114.2 297.7,113.3 300.0,114.0 C302.3,114.7 305.2,116.3 306.0,118.0 C306.8,119.7 306.0,122.3 305.0,124.0 C304.0,125.7 300.2,126.5 300.0,128.0 C299.8,129.5 302.0,131.5 304.0,133.0 C306.0,134.5 309.0,135.7 312.0,137.0 C315.0,138.3 318.8,139.7 322.0,141.0 C325.2,142.3 328.0,143.3 331.0,145.0 C334.0,146.7 337.2,148.8 340.0,151.0 C342.8,153.2 345.3,155.5 348.0,158.0 C350.7,160.5 353.8,163.3 356.0,166.0 C358.2,168.7 359.8,171.2 361.0,174.0 C362.2,176.8 363.2,180.7 363.0,183.0 C362.8,185.3 361.3,187.8 360.0,188.0 C358.7,188.2 356.7,186.0 355.0,184.0 C353.3,182.0 351.8,178.3 350.0,176.0 C348.2,173.7 346.3,171.3 344.0,170.0 C341.7,168.7 338.7,168.0 336.0,168.0 C333.3,168.0 330.3,168.7 328.0,170.0 C325.7,171.3 323.7,173.7 322.0,176.0 C320.3,178.3 319.5,182.2 318.0,184.0 C316.5,185.8 313.2,186.2 313.0,187.0 C312.8,187.8 315.2,187.8 317.0,189.0 C318.8,190.2 322.2,192.2 324.0,194.0 C325.8,195.8 327.3,197.7 328.0,200.0 C328.7,202.3 329.3,206.0 328.0,208.0 C326.7,210.0 322.5,210.5 320.0,212.0 C317.5,213.5 314.3,214.8 313.0,217.0 C311.7,219.2 313.2,222.2 312.0,225.0 C310.8,227.8 307.7,231.5 306.0,234.0 C304.3,236.5 303.3,238.2 302.0,240.0 C300.7,241.8 299.7,244.2 298.0,245.0 C296.3,245.8 293.5,245.8 292.0,245.0 C290.5,244.2 289.5,242.0 289.0,240.0 C288.5,238.0 288.2,235.0 289.0,233.0 C289.8,231.0 292.7,230.2 294.0,228.0 C295.3,225.8 295.3,222.0 297.0,220.0 C298.7,218.0 302.8,218.3 304.0,216.0 C305.2,213.7 304.7,209.3 304.0,206.0 C303.3,202.7 301.3,199.3 300.0,196.0 C298.7,192.7 297.5,189.0 296.0,186.0 C294.5,183.0 293.0,180.2 291.0,178.0 C289.0,175.8 286.5,174.7 284.0,173.0 C281.5,171.3 278.7,170.2 276.0,168.0 C273.3,165.8 270.3,163.0 268.0,160.0 C265.7,157.0 264.0,152.3 262.0,150.0 C260.0,147.7 259.7,146.0 256.0,146.0 C252.3,146.0 242.7,164.3 240.0,150.0 C237.3,135.7 238.3,74.3 240.0,60.0Z"/><path d="M240.0,246.0 C242.7,241.3 251.8,241.7 256.0,240.0 C260.2,238.3 261.8,236.7 265.0,236.0 C268.2,235.3 272.0,236.5 275.0,236.0 C278.0,235.5 280.7,233.5 283.0,233.0 C285.3,232.5 288.5,231.8 289.0,233.0 C289.5,234.2 287.3,237.7 286.0,240.0 C284.7,242.3 282.5,244.8 281.0,247.0 C279.5,249.2 278.0,250.5 277.0,253.0 C276.0,255.5 274.7,259.2 275.0,262.0 C275.3,264.8 278.5,267.3 279.0,270.0 C279.5,272.7 279.0,275.7 278.0,278.0 C277.0,280.3 275.2,283.5 273.0,284.0 C270.8,284.5 267.8,282.5 265.0,281.0 C262.2,279.5 258.8,276.8 256.0,275.0 C253.2,273.2 250.7,271.2 248.0,270.0 C245.3,268.8 241.3,272.0 240.0,268.0 C238.7,264.0 237.3,250.7 240.0,246.0Z"/><path d="M318.0,-10.0 C272.3,-1.7 323.7,28.0 326.0,40.0 C328.3,52.0 330.3,57.0 332.0,62.0 C333.7,67.0 334.0,66.7 336.0,70.0 C338.0,73.3 341.3,78.7 344.0,82.0 C346.7,85.3 349.0,87.3 352.0,90.0 C355.0,92.7 358.7,95.7 362.0,98.0 C365.3,100.3 369.0,102.0 372.0,104.0 C375.0,106.0 378.0,107.7 380.0,110.0 C382.0,112.3 382.8,115.3 384.0,118.0 C385.2,120.7 386.7,123.0 387.0,126.0 C387.3,129.0 386.3,132.7 386.0,136.0 C385.7,139.3 385.0,142.7 385.0,146.0 C385.0,149.3 386.0,152.8 386.0,156.0 C386.0,159.2 384.3,162.2 385.0,165.0 C385.7,167.8 388.2,170.0 390.0,173.0 C391.8,176.0 394.0,179.5 396.0,183.0 C398.0,186.5 400.0,190.5 402.0,194.0 C404.0,197.5 405.8,201.3 408.0,204.0 C410.2,206.7 413.0,208.6 415.0,210.0 C417.0,211.4 418.3,210.5 420.0,212.3 C421.7,214.1 423.7,218.1 425.0,221.0 C426.3,223.9 426.5,227.5 427.7,229.5 C428.9,231.5 430.1,232.6 432.0,233.0 C433.9,233.4 437.0,232.3 439.0,232.0 C441.0,231.7 442.0,231.8 444.0,231.2 C446.0,230.6 448.4,228.9 451.0,228.6 C453.6,228.3 456.7,229.1 459.5,229.5 C462.3,229.9 465.1,230.2 468.0,231.2 C470.9,232.2 474.4,234.1 476.6,235.5 C478.8,236.9 479.3,238.4 481.0,239.7 C482.7,241.0 484.3,242.0 487.0,243.2 C489.7,244.4 493.9,245.9 497.0,247.0 C500.1,248.1 504.8,250.7 505.8,249.8 C506.8,248.9 504.1,244.0 503.2,241.5 C502.3,239.0 501.9,236.8 500.6,234.6 C499.3,232.4 497.5,230.5 495.5,228.6 C493.5,226.7 491.2,225.3 488.6,223.4 C486.0,221.5 482.3,219.5 480.0,217.4 C477.7,215.3 476.4,212.6 475.0,210.6 C473.6,208.6 471.7,207.0 471.5,205.4 C471.3,203.8 472.9,202.2 474.0,201.0 C475.1,199.8 476.7,198.0 478.0,198.0 C479.3,198.0 480.7,200.1 482.0,201.0 C483.3,201.9 485.0,203.8 486.0,203.5 C487.0,203.2 488.3,200.7 488.0,199.0 C487.7,197.3 485.5,195.0 484.0,193.5 C482.5,192.0 481.1,191.5 479.0,190.0 C476.9,188.5 473.5,187.3 471.2,184.3 C468.9,181.3 466.3,175.7 465.0,171.8 C463.7,167.9 463.2,163.4 463.4,160.9 C463.6,158.4 465.0,157.4 466.0,157.0 C467.0,156.6 467.9,157.3 469.6,158.5 C471.3,159.7 473.9,162.1 476.0,164.0 C478.1,165.9 479.8,167.9 482.1,170.2 C484.4,172.5 488.3,177.7 489.9,178.0 C491.5,178.3 491.8,173.6 491.5,171.8 C491.2,170.0 487.9,167.6 488.4,167.1 C488.9,166.6 492.8,167.4 494.6,168.7 C496.4,170.0 498.7,174.9 499.3,174.9 C499.9,174.9 499.3,170.6 498.5,168.7 C497.7,166.8 494.5,164.2 494.6,163.2 C494.7,162.1 497.0,161.3 499.3,162.4 C501.6,163.5 507.6,169.2 508.6,169.5 C509.6,169.8 507.3,165.8 505.5,164.0 C503.7,162.2 500.0,160.3 497.7,158.5 C495.4,156.7 491.5,154.8 491.5,153.1 C491.5,151.4 495.9,149.7 497.7,148.4 C499.5,147.1 500.6,146.1 502.4,145.3 C504.2,144.5 506.0,144.5 508.6,143.7 C511.2,142.9 515.4,141.2 518.0,140.6 C520.6,139.9 521.6,139.3 524.2,139.8 C526.8,140.3 530.7,142.3 533.6,143.7 C536.5,145.1 538.8,147.3 541.4,148.4 C544.0,149.5 546.9,149.0 549.2,150.0 C551.5,151.0 554.5,152.3 555.4,154.6 C556.3,156.9 555.4,160.3 554.7,164.0 C554.1,167.7 551.8,172.6 551.5,176.5 C551.2,180.4 552.4,184.2 553.1,187.4 C553.9,190.7 548.2,194.6 556.0,196.0 C563.8,197.4 592.7,230.3 600.0,196.0 C607.3,161.7 647.0,24.3 600.0,-10.0 C553.0,-44.3 363.7,-18.3 318.0,-10.0Z"/><path d="M432.9,239.7 C435.0,237.8 438.7,234.9 442.3,233.7 C445.9,232.5 450.6,232.3 454.3,232.3 C458.0,232.3 461.2,232.8 464.6,233.9 C468.0,235.0 472.3,237.6 474.9,238.9 C477.5,240.2 478.9,240.0 480.0,241.8 C481.1,243.7 480.8,247.2 481.7,250.0 C482.6,252.8 484.0,256.3 485.2,258.6 C486.4,260.9 489.0,262.9 488.6,263.8 C488.2,264.7 484.6,264.8 482.6,263.8 C480.6,262.8 478.5,259.1 476.6,257.8 C474.8,256.5 471.8,254.4 471.5,256.0 C471.2,257.6 473.8,263.3 474.9,267.2 C476.0,271.1 477.2,275.2 478.3,279.2 C479.4,283.2 481.7,289.8 481.4,291.2 C481.1,292.6 478.6,289.8 476.6,287.8 C474.7,285.8 471.1,279.5 469.7,279.2 C468.3,278.9 468.8,284.0 468.0,286.0 C467.2,288.0 465.8,292.3 464.9,291.2 C464.0,290.1 464.2,281.3 462.9,279.2 C461.6,277.1 459.0,277.8 456.9,278.5 C454.8,279.2 451.9,282.8 450.0,283.5 C448.1,284.2 446.7,283.9 445.7,282.6 C444.7,281.3 444.6,277.8 444.0,275.8 C443.4,273.8 442.1,272.6 442.0,270.6 C441.9,268.6 443.4,265.9 443.2,263.8 C443.0,261.7 442.0,260.1 440.6,257.8 C439.2,255.5 436.5,252.2 434.6,250.0 C432.7,247.8 429.7,246.6 429.4,244.9 C429.1,243.2 430.8,241.6 432.9,239.7Z"/><path d="M494.7,317.7 C494.9,315.8 496.0,315.5 497.0,315.3 C498.0,315.1 499.5,316.7 500.5,316.5 C501.5,316.3 501.7,313.9 502.9,314.2 C504.1,314.5 505.9,317.9 507.5,318.4 C509.1,318.9 510.5,316.7 512.2,317.0 C514.0,317.3 515.5,319.3 518.0,320.0 C520.5,320.7 524.3,320.8 527.4,321.2 C530.5,321.6 533.6,322.0 536.7,322.3 C539.8,322.6 543.3,323.2 546.0,323.0 C548.7,322.8 551.0,321.7 553.0,321.2 C555.0,320.7 556.0,320.0 557.8,320.0 C559.6,320.0 562.0,320.8 563.6,321.2 C565.2,321.6 566.3,321.1 567.1,322.3 C567.9,323.5 568.7,326.4 568.3,328.2 C567.9,330.0 566.2,332.5 564.8,332.9 C563.4,333.3 561.6,330.7 560.0,330.5 C558.4,330.3 557.3,330.9 555.4,331.7 C553.5,332.5 551.5,334.6 548.4,335.2 C545.3,335.8 540.2,335.0 536.7,335.2 C533.2,335.4 529.4,337.0 527.4,336.4 C525.4,335.8 527.0,332.9 525.0,331.7 C523.0,330.5 519.2,329.9 515.7,329.3 C512.2,328.7 507.3,328.6 504.0,328.2 C500.7,327.8 497.4,328.8 495.8,327.0 C494.2,325.2 494.5,319.6 494.7,317.7Z"/><path d="M742.1,296.0 C737.2,297.8 740.5,304.5 739.0,306.7 C737.5,308.9 735.0,307.8 732.8,309.0 C730.6,310.2 726.6,312.1 725.7,313.7 C724.8,315.3 726.4,316.8 727.3,318.4 C728.2,320.0 729.5,321.9 731.2,323.1 C732.9,324.3 735.6,325.1 737.4,325.4 C739.2,325.6 740.8,324.3 742.1,324.6 C743.4,324.9 744.2,327.2 745.2,327.0 C746.2,326.8 746.8,324.3 748.4,323.1 C750.0,321.9 752.5,321.3 754.6,320.0 C756.7,318.7 759.0,316.9 760.8,315.3 C762.6,313.7 763.9,311.7 765.5,310.6 C767.1,309.6 768.9,309.1 770.2,309.0 C771.5,308.9 773.2,310.3 773.3,309.8 C773.4,309.3 771.8,308.2 771.0,305.9 C770.2,303.6 773.4,297.6 768.6,296.0 C763.8,294.4 747.0,294.2 742.1,296.0Z"/><path d="M474.9,208.0 C475.2,207.2 477.7,206.5 480.0,207.2 C482.3,207.9 485.7,210.2 488.6,212.3 C491.5,214.4 494.6,218.0 497.2,220.0 C499.8,222.0 502.3,222.4 504.0,224.3 C505.7,226.2 506.2,228.9 507.5,231.2 C508.8,233.5 511.5,236.7 511.8,238.0 C512.1,239.3 510.4,239.8 509.2,238.9 C508.0,238.1 506.6,234.9 504.9,232.9 C503.2,230.9 501.0,228.8 498.9,226.9 C496.8,225.0 494.3,223.3 492.0,221.7 C489.7,220.1 487.5,219.0 485.2,217.4 C482.9,215.8 480.0,213.9 478.3,212.3 C476.6,210.7 474.6,208.8 474.9,208.0Z"/></g>
<g fill="none" stroke="#000" stroke-linejoin="round"><path d="M240.0,418.0 L243.4,418.2 L248.8,418.3 L253.6,419.0 L258.0,420.0 L261.7,422.7 L265.2,426.6 L268.0,430.0 L270.4,433.3 L273.0,437.4 L276.0,441.0 L278.2,444.0 L280.5,448.7 L282.4,452.0 L285.0,455.0 L287.9,456.9 L291.7,458.7 L295.3,460.4 L300.0,462.0 L303.6,463.0 L308.4,464.1 L313.2,464.7 L317.7,465.4 L322.0,466.0 L326.8,466.6 L331.8,467.9 L336.0,468.6 L340.0,470.0 L343.2,471.7 L346.5,474.0 L350.2,476.9 L353.4,479.6 L356.0,482.0 L360.7,485.8 L363.7,488.4 L368.0,491.0 L372.4,492.4 L376.4,493.0 L380.0,493.0 L383.7,492.2 L388.4,490.1 L392.0,488.0 L395.3,485.1 L399.5,482.2 L402.0,478.0 L403.4,474.2 L405.0,470.0 L406.7,465.9 L407.0,462.0 L406.9,457.9 L405.8,454.1 L404.7,450.0 L404.0,446.0 L402.0,441.0 L400.2,436.2 L400.0,432.0 L402.0,428.3 L404.3,424.7 L408.0,421.0 L410.7,418.6 L414.7,416.8 L417.7,415.2 L422.0,413.0 L426.0,411.2 L431.0,409.8 L435.2,408.4 L440.0,408.0 L444.2,407.9 L449.0,408.2 L453.7,408.5 L458.0,409.0 L463.5,409.4 L467.8,410.3 L472.0,411.0 L475.4,412.6 L479.3,415.7 L482.0,418.0 L485.5,421.9 L490.0,426.0 L494.7,428.1 L499.5,429.4 L505.0,430.0 L510.5,431.0 L515.3,431.2 L520.0,432.0 L525.3,432.1 L530.6,431.4 L535.1,431.7 L539.5,433.2 L540.8,437.4 L542.2,442.1 L544.8,445.6 L548.2,445.9 L552.8,444.1 L558.6,443.1 L564.3,442.0 L568.6,442.0 L573.4,442.4 L577.4,443.2 L582.6,443.8 L586.8,444.9 L591.0,445.6 L596.1,446.0 L600.3,447.3 L604.5,447.7 L606.9,448.3 L610.4,451.8 L614.5,452.9 L619.1,453.3 L624.6,454.5 L629.3,455.5 L635.2,456.2 L640.0,456.6 L644.0,458.3 L648.5,460.2 L652.6,460.8 L656.8,460.5 L661.0,458.5 L665.3,456.6 L670.2,454.1 L674.0,450.5 L678.2,447.6 L682.0,444.0 L685.1,441.5 L687.7,438.1 L690.5,435.5 L697.0,432.8 L703.0,431.3 L709.5,430.3 L717.0,432.2 L724.2,433.4 L730.5,431.3 L735.0,434.0 L739.0,437.6 L745.3,439.7 L749.7,441.3 L753.7,441.8 L757.8,441.4 L762.0,439.7 L766.3,437.7 L770.5,435.5 L774.5,434.7 L778.7,434.4 L783.0,433.4 L787.0,431.7 L792.2,429.7 L795.8,427.0 L799.8,424.8 L803.2,422.8 L806.0,420.0 L808.4,416.9 L810.0,412.9 L812.0,408.0 L812.6,404.3 L813.8,399.9 L814.6,395.5 L815.0,390.0 L815.4,386.7 L815.2,381.9 L815.4,378.1 L815.4,373.2 L816.1,369.1 L815.8,364.7 L816.0,360.0 L816.0,355.6 L816.0,350.5 L816.8,345.9 L817.0,340.7 L816.9,336.2 L816.6,332.7 L817.0,330.0" stroke-width="1.0"/><path d="M250.0,64.0 L250.9,67.2 L251.4,71.3 L252.0,75.0 L252.3,77.4 L253.3,80.7 L253.8,84.1 L255.2,87.3 L256.0,90.0 L257.6,94.0 L260.6,96.4 L262.0,99.0 L264.3,101.6 L268.0,105.0 L271.1,106.2 L273.6,108.6 L276.0,110.0 L279.2,112.2 L283.0,113.0 L285.2,113.0 L288.9,113.1 L292.0,114.0 L296.6,113.4 L300.0,114.0 L303.1,115.0 L306.0,118.0 L306.4,120.9 L305.0,124.0 L302.4,126.3 L300.0,128.0 L301.6,131.1 L304.0,133.0 L307.9,134.6 L312.0,137.0 L315.2,137.9 L318.0,139.6 L322.0,141.0 L325.4,141.8 L327.7,143.3 L331.0,145.0 L334.3,146.8 L337.2,149.2 L340.0,151.0 L342.6,153.6 L345.9,155.0 L348.0,158.0 L351.4,160.9 L353.0,163.2 L356.0,166.0 L358.2,169.2 L359.5,171.4 L361.0,174.0 L362.6,177.5 L363.4,180.2 L363.0,183.0 L360.0,188.0 L357.8,186.4 L355.0,184.0 L353.7,182.0 L351.9,179.0 L350.0,176.0 L346.8,173.2 L344.0,170.0 L340.8,169.2 L336.0,168.0 L331.9,168.9 L328.0,170.0 L324.5,173.2 L322.0,176.0 L320.4,180.0 L318.0,184.0 L313.0,187.0 L317.0,189.0 L319.9,191.2 L324.0,194.0 L326.5,197.2 L328.0,200.0 L328.7,203.5 L328.0,208.0 L324.9,209.6 L320.0,212.0 L316.5,213.8 L313.0,217.0 L312.2,221.2 L312.0,225.0 L309.8,227.5 L308.1,231.5 L306.0,234.0 L304.4,237.5 L302.0,240.0 L300.7,242.9 L298.0,245.0 L295.6,245.0 L292.0,245.0 L289.0,240.0 L288.1,236.5 L289.0,233.0 L291.0,230.9 L294.0,228.0 L295.6,224.0 L297.0,220.0 L301.2,218.2 L304.0,216.0 L304.4,212.9 L305.0,210.1 L304.0,206.0 L302.6,203.2 L302.1,199.4 L300.0,196.0 L298.8,192.2 L297.5,189.2 L296.0,186.0 L294.6,182.4 L293.5,180.4 L291.0,178.0 L287.5,175.7 L284.0,173.0 L281.5,171.4 L279.0,169.3 L276.0,168.0 L273.3,165.5 L271.2,163.5 L268.0,160.0 L265.5,156.6 L263.4,152.9 L262.0,150.0 L259.1,147.9 L256.0,146.0" stroke-width="1.0"/><path d="M256.0,240.0 L258.3,238.6 L261.2,237.4 L265.0,236.0 L268.9,235.3 L272.2,235.4 L275.0,236.0 L278.8,234.1 L283.0,233.0 L286.9,232.1 L289.0,233.0 L288.0,236.2 L286.0,240.0 L283.0,243.9 L281.0,247.0 L278.3,249.9 L277.0,253.0 L275.6,255.4 L275.2,258.9 L275.0,262.0 L276.8,265.9 L279.0,270.0 L279.1,273.6 L278.0,278.0 L275.5,281.9 L273.0,284.0 L269.4,283.3 L265.0,281.0 L262.5,279.3 L259.5,276.7 L256.0,275.0 L253.3,273.5 L250.6,271.0 L248.0,270.0" stroke-width="1.0"/><path d="M318.0,-10.0 L318.0,-7.6 L318.2,-5.3 L319.6,-3.8 L319.1,-0.0 L319.6,2.3 L321.0,6.2 L321.5,9.4 L321.5,13.9 L321.5,17.0 L323.1,21.7 L324.0,24.2 L324.0,28.7 L324.5,31.9 L324.6,34.1 L325.0,36.9 L326.0,40.0 L327.1,44.8 L328.0,48.2 L328.4,51.7 L330.1,55.7 L331.1,57.0 L330.7,60.5 L332.0,62.0 L333.8,67.0 L336.0,70.0 L337.5,72.8 L339.8,75.9 L342.0,78.5 L344.0,82.0 L346.9,85.4 L348.7,87.4 L352.0,90.0 L354.7,91.9 L356.4,93.7 L359.5,95.5 L362.0,98.0 L366.0,100.6 L369.1,102.6 L372.0,104.0 L375.1,105.8 L377.8,107.9 L380.0,110.0 L383.0,114.3 L384.0,118.0 L385.5,122.5 L387.0,126.0 L387.3,129.6 L386.9,132.5 L386.0,136.0 L386.1,139.9 L385.5,143.0 L385.0,146.0 L385.6,149.2 L386.1,152.1 L386.0,156.0 L385.4,159.1 L384.3,161.9 L385.0,165.0 L386.4,167.8 L387.7,170.8 L390.0,173.0 L392.2,175.9 L394.2,179.6 L396.0,183.0 L397.7,185.8 L400.1,189.3 L401.2,192.4 L402.0,194.0" stroke-width="1.0"/><path d="M402.0,194.0 L403.8,195.1 L404.7,199.0 L405.9,201.4 L408.0,204.0 L409.6,205.9 L412.6,207.8 L415.0,210.0 L417.2,211.6 L420.0,212.3 L421.4,214.0 L423.4,216.4 L424.7,218.9 L425.0,221.0 L426.5,223.4 L426.9,227.5 L427.7,229.5 L428.9,232.5 L432.0,233.0 L434.9,232.7 L439.0,232.0 L441.0,231.7 L444.0,231.2 L447.5,229.1 L451.0,228.6 L454.4,228.5 L456.7,229.2 L459.5,229.5 L462.1,229.6 L465.4,230.5 L468.0,231.2 L470.7,232.8 L473.7,233.2 L476.6,235.5 L478.6,236.9 L481.0,239.7 L483.1,241.9 L487.0,243.2 L489.1,244.8 L492.2,244.4 L495.3,246.8 L497.0,247.0 L499.8,249.1 L503.6,249.7 L505.8,249.8 L506.5,247.4 L504.5,245.3 L503.2,241.5 L502.4,237.9 L500.6,234.6 L499.9,233.0 L497.6,229.9 L495.5,228.6 L493.6,226.8 L490.6,224.4 L488.6,223.4 L486.5,221.4 L484.1,220.8 L481.9,218.6 L480.0,217.4 L478.1,215.0 L476.9,212.8 L475.0,210.6 L473.6,208.6 L471.5,205.4 L472.7,202.6 L474.0,201.0 L475.3,199.7 L478.0,198.0 L480.5,199.4 L482.0,201.0 L486.0,203.5 L488.0,199.0 L486.2,195.8 L484.0,193.5 L482.0,191.9 L479.0,190.0 L476.7,188.7 L474.2,186.3 L471.2,184.3 L469.4,183.0 L469.0,180.3 L466.3,176.3 L465.6,174.2 L465.0,171.8 L464.4,168.2 L463.7,165.1 L462.7,163.4 L463.4,160.9 L466.0,157.0 L469.6,158.5 L471.6,160.2 L473.6,161.9 L476.0,164.0 L477.5,165.7 L480.3,168.5 L482.1,170.2 L483.4,171.8 L486.8,175.1 L488.8,176.5 L489.9,178.0 L491.3,175.3 L491.5,171.8 L490.2,168.8 L488.4,167.1 L491.3,168.0 L494.6,168.7 L496.2,171.0 L498.6,174.3 L499.3,174.9 L499.3,172.3 L498.5,168.7 L495.6,166.2 L494.6,163.2 L499.3,162.4 L500.9,163.2 L504.5,166.2 L507.3,168.1 L508.6,169.5 L508.6,166.9 L505.5,164.0 L502.7,162.4 L499.7,160.0 L497.7,158.5 L495.4,157.0 L492.2,154.3 L491.5,153.1 L492.5,151.8 L495.1,149.2 L497.7,148.4 L500.4,146.8 L502.4,145.3 L505.9,145.2 L508.6,143.7 L512.3,142.6 L515.5,141.2 L518.0,140.6 L520.8,139.6 L524.2,139.8 L527.1,141.1 L528.4,141.2 L531.1,142.3 L533.6,143.7 L536.2,145.1 L538.4,147.1 L541.4,148.4 L544.5,149.1 L547.3,149.5 L549.2,150.0 L551.1,151.5 L554.5,152.3 L555.4,154.6 L555.0,157.3 L555.4,160.6 L554.7,164.0 L554.9,166.6 L553.9,168.2 L552.6,171.9 L551.2,173.4 L551.5,176.5 L552.0,180.2 L551.4,182.9 L552.1,185.9 L553.1,187.4" stroke-width="1.55"/><path d="M432.9,239.7 L435.0,237.7 L436.6,236.9 L439.7,235.3 L442.3,233.7 L445.0,232.7 L449.0,232.8 L451.3,232.4 L454.3,232.3 L457.3,232.7 L460.2,232.6 L462.6,233.5 L464.6,233.9 L467.9,235.4 L470.6,236.9 L473.4,237.9 L474.9,238.9 L478.0,240.5 L480.0,241.8 L481.2,244.0 L481.0,246.5 L481.7,250.0 L483.1,253.7 L483.8,255.4 L485.2,258.6 L487.0,261.6 L488.6,263.8 L485.9,265.3 L482.6,263.8 L479.9,261.8 L477.9,259.9 L476.6,257.8 L473.9,255.3 L471.5,256.0 L471.1,257.8 L472.8,261.4 L473.1,263.4 L474.9,267.2 L475.3,269.7 L476.2,273.5 L477.6,275.7 L478.3,279.2 L478.8,282.2 L479.8,286.6 L480.9,289.4 L481.4,291.2 L480.1,290.8 L476.6,287.8 L474.5,286.3 L473.6,282.6 L471.2,281.1 L469.7,279.2 L468.6,281.3 L468.0,286.0 L465.7,290.5 L464.9,291.2 L464.9,289.0 L464.1,285.6 L463.3,282.6 L462.9,279.2 L460.5,277.4 L456.9,278.5 L453.8,279.9 L451.9,282.5 L450.0,283.5 L445.7,282.6 L445.0,279.6 L444.0,275.8 L442.3,272.7 L442.0,270.6 L442.4,266.9 L443.2,263.8 L442.9,260.9 L440.6,257.8 L439.0,256.0 L436.3,252.5 L434.6,250.0 L430.8,247.7 L429.4,244.9 L429.4,242.9 L432.9,239.7Z" stroke-width="1.55"/><path d="M494.7,317.7 L497.0,315.3 L500.5,316.5 L502.9,314.2 L505.5,316.6 L507.5,318.4 L512.2,317.0 L514.3,318.1 L518.0,320.0 L521.1,320.1 L524.1,320.8 L527.4,321.2 L531.1,321.7 L534.0,321.7 L536.7,322.3 L540.2,322.6 L543.6,322.5 L546.0,323.0 L550.2,321.9 L553.0,321.2 L557.8,320.0 L560.8,320.5 L563.6,321.2 L567.1,322.3 L567.7,325.4 L568.3,328.2 L566.7,330.8 L564.8,332.9 L562.0,331.7 L560.0,330.5 L555.4,331.7 L553.4,333.1 L551.0,334.4 L548.4,335.2 L545.3,335.3 L542.6,335.9 L540.0,335.4 L536.7,335.2 L532.6,335.6 L530.2,336.1 L527.4,336.4 L526.3,334.2 L525.0,331.7 L521.9,331.3 L519.6,329.6 L515.7,329.3 L513.0,328.7 L509.6,328.7 L506.5,328.3 L504.0,328.2 L500.6,328.3 L497.6,327.6 L495.8,327.0 L495.1,324.0 L495.1,320.7 L494.7,317.7Z" stroke-width="1.7"/><path d="M742.1,296.0 L741.7,298.8 L740.8,302.8 L739.0,306.7 L735.6,307.7 L732.8,309.0 L729.0,311.5 L725.7,313.7 L727.3,318.4 L728.5,320.8 L731.2,323.1 L734.7,324.7 L737.4,325.4 L742.1,324.6 L745.2,327.0 L748.4,323.1 L750.7,321.2 L754.6,320.0 L757.3,317.2 L760.8,315.3 L763.1,312.2 L765.5,310.6 L770.2,309.0 L773.3,309.8 L771.0,305.9 L770.7,302.6 L769.2,299.0 L768.6,296.0" stroke-width="1.0"/><path d="M474.9,208.0 L477.1,207.5 L480.0,207.2 L482.4,208.1 L485.5,209.5 L488.6,212.3 L490.7,214.4 L493.7,216.6 L495.4,218.4 L497.2,220.0 L499.0,221.4 L501.8,223.0 L504.0,224.3 L504.8,226.2 L506.4,229.2 L507.5,231.2 L509.6,233.8 L510.4,236.5 L511.8,238.0 L509.2,238.9 L507.8,236.4 L504.9,232.9 L502.9,230.9 L500.5,229.1 L498.9,226.9 L497.3,225.1 L494.6,223.8 L492.0,221.7 L489.3,220.9 L487.6,218.4 L485.2,217.4 L482.2,215.4 L480.5,214.2 L478.3,212.3 L475.6,210.5 L474.9,208.0Z" stroke-width="1.5"/><path d="M122.0,92.0 L122.9,88.2 L125.0,84.0 L127.3,82.3 L131.0,80.0 L133.6,79.6 L137.0,78.0 L141.0,74.0 L142.1,70.8 L143.0,68.0 L146.0,68.0 L146.7,70.7 L147.0,76.0 L147.8,79.6 L147.9,82.7 L147.1,86.8 L147.6,90.3 L148.0,92.0" stroke-width="1.0"/><path d="M250.0,64.0 L249.0,61.6 L248.8,57.4 L247.3,53.2 L246.0,50.0 L244.3,46.7 L244.5,44.9 L242.9,41.2 L241.6,39.0 L240.0,36.0 L237.9,33.0 L236.4,29.3 L233.5,27.0 L232.0,24.0 L230.1,21.1 L229.4,17.9 L228.0,15.1 L227.0,12.3 L226.0,10.0 L225.2,5.4 L224.6,1.9 L224.0,0.0" stroke-width="1.0"/><path d="M676.0,0.0 L677.7,1.8 L678.5,3.7 L680.5,6.7 L682.6,9.7 L684.2,13.0 L686.7,15.8 L688.0,18.0 L689.6,20.5 L691.5,23.8 L693.1,25.9 L694.6,29.0 L696.2,30.4 L698.5,34.1 L700.0,36.0 L702.2,38.5 L704.3,40.5 L706.1,42.4 L707.5,45.2 L710.1,47.4 L711.5,50.1 L714.0,52.0 L716.3,54.4 L718.3,57.5 L720.5,59.9 L723.5,63.8 L724.9,65.9 L726.0,67.0" stroke-width="1.0"/><path d="M168.0,323.0 L166.0,325.8 L163.1,329.1 L161.0,332.0 L159.1,335.4 L156.5,337.9 L155.0,340.0 L152.3,342.5 L151.2,344.1 L148.0,346.5 L144.2,347.0 L140.5,346.8 L138.0,347.5" stroke-width="1.0"/><path d="M163,342 L167,339 L169.5,337.5 L169,340.5 L165,343 Z" stroke-width="1"/><path d="M171.0,64.0 L172.6,67.9 L174.0,72.0 L175.9,74.4 L178.7,76.6 L181.0,80.0 L182.5,83.6 L185.0,86.2 L187.0,89.0 L189.5,93.2 L190.0,95.0" stroke-width="1.0"/><circle cx="211" cy="70.6" r="1.6" fill="#a9d8ec" stroke="#5f8fa8" stroke-width="0.5"/><circle cx="205" cy="87.5" r="1.6" fill="#a9d8ec" stroke="#5f8fa8" stroke-width="0.5"/><path d="M162,78 l2.5,-1 l2.5,1 l2.5,-1 l2,1.2 l-2,1.3 l-2.5,-0.8 l-2.5,0.8 Z" stroke-width="0.8"/><path d="M544.8,445.6 L542.5,447.2 L539.1,451.2 L537.5,453.8 L538.5,456.6 L540.0,460.4 L541.0,464.0 L542.0,466.8 L543.4,471.2 L543.0,473.7 L541.4,477.0 L539.3,480.5 L538.0,483.0 L535.2,486.5 L535.0,491.4 L536.0,493.8 L537.6,497.6 L538.9,499.6 L540.0,503.0 L541.8,506.8 L542.8,508.7 L544.0,513.6 L544.0,515.8 L545.0,518.4 L544.6,521.5 L545.5,525.4 L545.4,528.5 L546.3,531.8 L546.0,535.0 L545.8,537.8 L547.0,541.8 L546.3,545.4 L546.3,549.5 L546.9,552.3 L547.2,554.8 L547.4,557.7 L547.4,560.0" stroke-width="1.0"/><path d="M797.0,423.0 L797.7,425.7 L799.0,428.3 L801.7,432.0 L803.0,436.0 L803.9,438.8 L804.9,442.1 L807.2,443.7 L807.7,447.5 L809.0,450.0 L810.3,453.6 L812.1,455.8 L813.7,459.6 L814.8,462.3 L816.0,464.0" stroke-width="1.0"/><path d="M754.0,476.5 L753.5,479.0 L752.0,483.0 L751.6,486.0 L752.7,488.9 L754.7,491.1 L755.8,494.5 L757.8,497.4 L759.4,501.1 L761.0,505.0 L762.6,509.0 L764.8,512.7 L766.3,515.5 L768.5,518.1 L771.3,520.4 L773.7,521.8" stroke-width="1.0"/><path d="M754.0,476.5 L757.0,479.0 L758.9,481.5 L761.0,486.0 L762.8,489.1 L764.5,492.2 L766.3,494.5 L768.0,496.7 L770.1,499.8 L772.6,501.8 L774.7,504.0" stroke-width="1.0"/><path d="M816.0,500.0 L815.4,502.1 L814.5,505.7 L813.6,509.3 L814.0,512.0 L814.6,515.1 L816.0,517.6 L816.1,520.7 L817.0,524.0 L815.9,526.8 L815.7,530.2 L814.2,533.3 L814.0,536.0 L813.8,540.3 L814.8,543.1 L816.0,546.0" stroke-width="1.0"/><path d="M794.0,548.0 L795.6,551.5 L799.0,555.0 L803.3,558.3 L806.0,560.0" stroke-width="1.0"/><path d="M812.0,330.0 L811.0,331.9 L810.9,334.5 L811.2,337.6 L810.1,342.1 L810.0,345.0 L811.1,347.5 L811.1,351.3 L811.4,353.6 L813.3,356.5 L813.0,360.0 L812.4,362.7 L811.5,365.3 L809.9,369.6 L809.9,372.2 L809.0,375.0 L808.7,377.9 L809.7,381.3 L810.3,385.8 L810.7,388.4 L811.0,392.0 L811.2,395.7 L809.0,399.1 L808.8,402.2 L807.4,406.1 L807.0,408.0" stroke-width="0.9"/><path d="M380.0,110.0 L382.6,108.6 L385.6,106.2 L388.0,104.0 L390.5,102.5 L393.2,100.4 L396.0,98.0 L398.4,95.9 L401.2,94.2 L404.0,92.0 L406.4,87.6 L408.0,84.0 L405.2,80.3 L402.0,78.0 L398.6,78.9 L396.0,80.0 L394.6,77.8 L392.0,74.0 L390.5,70.6 L388.0,68.0 L385.6,64.0 L384.0,62.0" stroke-width="1.0"/><path d="M352.0,90.0 L353.9,87.1 L356.0,84.0 L358.8,81.5 L362.0,80.0 L362.7,75.8 L364.0,72.0 L365.5,69.1 L368.0,66.0 L372.4,65.6 L376.0,66.0 L378.0,62.0" stroke-width="1.0"/><path d="M408.0,84.0 L409.4,86.0 L412.5,90.0 L414.0,94.0 L415.7,97.2 L417.1,99.2 L417.2,102.8 L418.0,106.0 L417.2,109.5 L416.8,112.4 L416.2,114.4 L416.0,118.0 L416.4,120.6 L417.0,123.5 L419.0,126.3 L420.0,130.0 L420.7,133.0 L421.9,135.7 L423.1,138.9 L424.0,142.0 L426.0,145.6 L427.1,147.8 L430.0,150.0 L432.8,150.2 L436.5,148.6 L440.0,148.0 L444.6,148.7 L448.0,150.0 L452.2,147.9 L456.0,146.0" stroke-width="1.0"/><path d="M418.0,106.0 L420.2,103.4 L423.6,101.7 L428.0,100.0 L431.5,101.4 L435.5,102.8 L438.0,104.0 L441.0,103.0 L442.9,99.9 L446.0,98.0 L449.4,99.6 L453.1,100.7 L456.0,102.0 L459.7,100.3 L463.0,98.5 L466.0,96.0 L467.5,92.8 L469.2,89.5 L470.0,86.0 L468.7,82.2 L466.9,79.3 L466.0,76.0 L466.6,72.7 L468.6,68.5 L470.0,66.0 L468.0,62.3 L466.0,60.0" stroke-width="1.0"/><path d="M430.0,150.0 L428.5,152.8 L427.9,156.5 L426.0,160.0 L424.5,162.2 L422.1,165.4 L420.0,168.0 L416.9,170.3 L414.1,172.7 L412.0,174.0 L408.1,173.1 L404.0,172.0 L399.6,173.7 L396.0,176.0 L391.8,174.5 L390.0,173.0" stroke-width="1.0"/><path d="M456.0,146.0 L458.0,143.8 L459.1,140.8 L462.0,138.0 L464.6,136.9 L468.7,137.2 L472.0,136.0 L475.1,134.9 L479.3,133.8 L482.0,132.0 L485.6,130.8 L488.7,129.2 L492.0,128.0 L495.8,126.0 L500.0,124.0 L504.5,125.3 L508.0,128.0 L512.4,129.7 L516.0,132.0 L518.7,131.8 L522.3,130.7 L526.0,130.0 L530.0,128.9 L532.2,128.4 L536.0,128.0 L539.7,126.5 L542.3,125.6 L546.0,124.0 L549.6,120.9 L552.0,118.0 L551.0,114.2 L550.0,110.0 L552.6,106.9 L556.0,104.0 L559.0,102.1 L561.0,100.0" stroke-width="1.0"/><path d="M470.0,86.0 L473.4,87.2 L476.4,90.0 L480.0,92.0 L482.1,95.3 L484.6,98.6 L486.0,102.0 L487.7,105.4 L487.5,108.3 L488.9,111.3 L490.0,114.0 L491.7,116.9 L494.4,120.0 L496.0,122.0 L500.0,124.0" stroke-width="1.0"/><path d="M552.0,118.0 L552.9,120.2 L554.7,123.8 L556.0,128.0 L555.6,130.9 L554.0,134.2 L554.0,138.0 L554.3,142.9 L556.0,146.0" stroke-width="1.0"/><path d="M454.3,232.3 L454.3,234.8 L456.2,238.4 L456.9,241.5 L458.8,244.7 L461.2,246.6 L462.0,248.7 L460.5,252.6 L459.5,255.2 L457.8,256.2 L454.8,256.6 L451.8,257.3 L449.2,258.6 L447.2,260.9 L447.0,263.3 L445.7,265.5 L445.2,268.0 L445.0,271.3 L444.8,274.4 L444.0,275.8" stroke-width="1.3"/><path d="M461.2,246.6 L462.9,247.0 L466.9,247.5 L469.7,248.3 L473.0,247.1 L476.6,246.6 L478.9,244.8 L480.0,241.8" stroke-width="1.3"/><path d="M459.5,255.2 L462.1,255.7 L464.2,257.7 L466.3,258.6 L469.5,257.3 L471.5,256.0" stroke-width="1.3"/><path d="M466.3,258.6 L466.6,261.5 L464.5,264.1 L464.6,267.2 L463.5,269.5 L463.3,274.1 L464.0,276.4 L462.9,279.2" stroke-width="1.3"/><path d="M427.7,229.5 L428.4,226.7 L430.2,224.5 L432.0,222.0 L434.2,219.8 L437.7,219.2 L440.0,218.0 L442.5,218.5 L445.9,220.6 L448.0,222.0 L450.8,225.4 L451.0,228.6" stroke-width="1.3"/><path d="M440.0,218.0 L439.8,216.2 L439.1,212.9 L437.5,210.0 L438.0,208.0 L439.6,205.3 L440.4,202.9 L441.9,200.8 L444.0,200.0 L446.6,198.1 L449.5,197.6 L452.0,198.0 L454.2,199.1 L457.1,200.5 L460.0,202.0 L462.1,200.8 L466.3,200.0 L468.0,200.0 L469.6,202.1 L471.5,205.4" stroke-width="1.3"/><path d="M452.0,198.0 L451.2,196.6 L449.7,193.4 L450.0,190.0 L451.3,187.4 L454.0,185.2 L456.0,184.0 L457.8,184.3 L461.6,185.5 L464.0,186.0 L467.7,186.0 L471.2,184.3" stroke-width="1.3"/><path d="M460.0,202.0 L460.8,204.7 L460.4,207.2 L461.4,209.0 L462.0,212.0 L462.9,213.3 L465.1,214.7 L467.8,217.1 L470.0,218.0 L472.9,220.7 L476.0,222.0 L477.6,219.5 L480.0,217.4" stroke-width="1.3"/><path d="M470.0,218.0 L471.0,219.1 L470.8,223.0 L471.7,225.8 L472.0,228.0 L473.3,231.4 L475.8,234.1 L476.6,235.5" stroke-width="1.3"/><path d="M420.0,212.3 L422.2,210.3 L424.1,208.9 L426.0,206.7 L428.0,206.0 L431.2,205.2 L433.6,206.2 L436.0,207.2 L438.0,208.0" stroke-width="1.3"/><path d="M408.0,204.0 L409.2,202.9 L410.2,200.3 L411.8,197.4 L414.0,196.0 L416.9,194.9 L418.2,194.6 L421.9,194.2 L424.0,194.0 L426.5,192.7 L428.4,190.2 L429.4,188.5 L432.0,188.0 L434.4,188.0 L436.4,189.2 L440.0,190.0 L442.4,189.9 L445.6,190.8 L447.7,190.7 L450.0,190.0" stroke-width="1.3"/><path d="M432.0,188.0 L430.8,186.6 L429.1,184.3 L428.4,181.3 L428.0,178.0 L428.1,175.0 L430.4,171.9 L432.0,170.0 L433.4,168.6 L436.5,166.5 L437.4,165.1 L440.0,164.0 L443.4,161.6 L445.5,160.3 L448.0,160.0 L450.2,160.6 L452.2,163.7 L454.6,165.3 L456.0,166.0 L458.8,165.0 L460.9,163.2 L463.4,160.9" stroke-width="1.3"/><path d="M456.0,166.0 L454.9,167.8 L452.9,170.4 L450.6,173.0 L450.0,176.0 L451.0,178.4 L452.6,179.9 L454.8,182.5 L456.0,184.0" stroke-width="1.3"/><path d="M404.0,172.0 L406.2,173.0 L409.7,173.3 L412.0,174.0 L414.0,173.9 L416.5,171.3 L418.5,170.6 L420.0,168.0 L421.5,166.8 L422.7,165.0 L424.7,161.8 L426.0,160.0 L427.8,157.6 L429.1,155.0 L429.8,151.9 L430.0,150.0" stroke-width="1.3"/><path d="M440.0,164.0 L440.0,161.2 L438.7,159.2 L438.0,156.0 L439.2,154.1 L442.1,151.5 L444.0,150.0" stroke-width="1.3"/><path d="M469.6,158.5 L470.7,155.6 L470.5,153.0 L472.0,150.0 L474.2,147.9 L478.0,146.0 L480.8,143.2 L482.0,140.0 L481.9,137.7 L482.7,134.6 L482.0,132.0" stroke-width="1.3"/><path d="M491.5,153.1 L490.4,151.9 L489.2,148.1 L488.0,146.0 L488.7,142.8 L489.9,140.6 L492.0,138.0 L492.9,135.9 L491.6,132.0 L491.9,130.4 L492.0,128.0" stroke-width="1.3"/><path d="M508.6,143.7 L509.0,142.2 L508.5,139.4 L510.0,136.0 L512.6,133.7 L516.0,132.0" stroke-width="1.3"/><path d="M533.6,143.7 L533.6,142.1 L531.7,139.1 L532.0,136.0 L533.0,132.3 L534.5,129.8 L536.0,128.0" stroke-width="1.3"/><path d="M588,303 L587,307 L589,311 L588.5,315 L591,318.5 L593,315 L591.5,310 L593,306 L592,303" stroke-width="1.2"/><path d="M743,444 L744,448 L745,452" stroke-width="0.8" stroke-dasharray="1.5 1.5"/></g>
<g fill="none" stroke="#000" stroke-linejoin="round"><path d="M392.4,186.2 C393.1,187.3 393.5,188.8 393.7,189.9 C394.0,191.0 394.2,192.7 393.8,192.7 C393.3,192.6 391.8,190.6 390.9,189.4 C390.0,188.2 388.7,186.7 388.2,185.5 C387.8,184.4 387.7,182.8 387.9,182.5 C388.2,182.1 389.2,182.8 389.9,183.4 C390.7,184.0 391.8,185.1 392.4,186.2Z" stroke-width="1.5499999999999998"/><path d="M416.0,233.5 C415.6,234.7 414.6,235.5 413.9,236.2 C413.2,236.9 412.1,237.8 411.5,237.5 C411.0,237.2 410.7,235.4 410.6,234.3 C410.6,233.2 410.8,231.9 411.2,230.9 C411.6,229.9 412.4,228.6 413.2,228.3 C414.0,227.9 415.5,228.0 415.9,228.9 C416.4,229.8 416.3,232.3 416.0,233.5Z" stroke-width="1.5499999999999998"/><path d="M411.3,224.0 C411.2,225.1 411.1,226.0 410.9,226.7 C410.6,227.4 410.1,228.2 409.6,228.1 C409.2,228.1 408.4,227.1 408.2,226.1 C408.0,225.1 408.3,223.2 408.5,222.2 C408.7,221.2 409.2,220.6 409.7,220.3 C410.1,220.0 411.0,219.5 411.2,220.1 C411.5,220.7 411.4,222.9 411.3,224.0Z" stroke-width="1.5499999999999998"/><path d="M422.9,247.9 C423.6,248.7 424.9,249.8 424.9,250.5 C425.0,251.1 423.8,251.6 423.2,251.7 C422.5,251.8 421.6,251.5 421.0,251.1 C420.4,250.6 419.7,249.8 419.4,249.1 C419.1,248.4 418.9,247.5 419.1,246.9 C419.3,246.3 420.1,245.3 420.7,245.4 C421.3,245.6 422.2,247.0 422.9,247.9Z" stroke-width="1.5499999999999998"/><circle cx="404" cy="201" r="0.9" fill="#000" stroke="none"/><circle cx="415" cy="241" r="0.9" fill="#000" stroke="none"/><path d="M517.3,151.5 C517.4,152.4 517.2,153.8 516.6,154.4 C515.9,155.1 514.1,155.5 513.2,155.3 C512.3,155.0 511.3,153.9 510.9,153.0 C510.5,152.1 510.2,150.6 510.6,149.9 C511.0,149.2 512.5,148.9 513.4,148.8 C514.3,148.7 515.3,148.8 515.9,149.3 C516.6,149.8 517.2,150.6 517.3,151.5Z" stroke-width="1.75"/><path d="M540.2,158.3 C540.2,158.8 540.0,159.6 539.3,159.9 C538.7,160.1 537.3,159.8 536.5,159.5 C535.7,159.2 535.1,158.6 534.8,158.1 C534.5,157.6 534.3,156.8 534.7,156.4 C535.1,156.0 536.3,155.7 537.1,155.8 C537.9,155.9 539.0,156.3 539.5,156.7 C540.0,157.1 540.2,157.8 540.2,158.3Z" stroke-width="1.5499999999999998"/><path d="M550.3,162.7 C550.6,163.3 550.0,164.7 549.2,165.5 C548.4,166.4 546.6,167.2 545.4,167.7 C544.2,168.2 542.5,168.9 541.7,168.8 C541.0,168.7 540.7,167.8 540.9,167.0 C541.1,166.3 541.8,164.9 542.9,164.1 C544.0,163.2 546.1,162.4 547.4,162.2 C548.6,162.0 550.0,162.2 550.3,162.7Z" stroke-width="1.5499999999999998"/><path d="M534.2,175.7 C534.3,176.9 534.5,179.2 533.6,179.8 C532.7,180.3 530.2,179.4 528.8,179.0 C527.4,178.6 526.1,178.3 525.4,177.4 C524.7,176.6 524.0,174.5 524.6,173.6 C525.2,172.8 527.4,172.5 528.8,172.3 C530.1,172.1 531.9,171.9 532.8,172.4 C533.7,173.0 534.0,174.5 534.2,175.7Z" stroke-width="1.85"/><path d="M558.3,201.0 C557.7,202.6 557.2,204.8 556.2,205.6 C555.2,206.4 553.1,206.5 552.2,205.8 C551.3,205.0 550.9,202.9 551.0,201.2 C551.0,199.4 551.5,196.6 552.4,195.5 C553.4,194.4 555.2,194.6 556.5,194.6 C557.7,194.7 559.4,194.9 559.7,196.0 C560.0,197.1 558.9,199.4 558.3,201.0Z" stroke-width="1.65"/><circle cx="525" cy="189" r="1.2" fill="#000" stroke="none"/><circle cx="486.8" cy="202.2" r="1.3" fill="#000" stroke="none"/><circle cx="492.3" cy="203" r="1.4" fill="#000" stroke="none"/><path d="M501.5,199.4 C501.7,199.8 501.5,200.5 501.2,200.9 C500.9,201.4 500.1,201.8 499.5,202.1 C498.9,202.4 497.9,202.7 497.5,202.6 C497.0,202.5 496.5,201.8 496.6,201.4 C496.8,200.9 497.6,200.2 498.2,199.8 C498.7,199.4 499.6,198.9 500.1,198.9 C500.7,198.8 501.3,199.1 501.5,199.4Z" stroke-width="1.75"/><circle cx="503.2" cy="196" r="1.2" fill="#000" stroke="none"/><circle cx="505.5" cy="192" r="1" fill="#000" stroke="none"/><path d="M517.8,212.0 C517.3,213.0 516.6,214.5 515.8,214.9 C515.1,215.3 513.9,214.9 513.4,214.3 C512.8,213.7 512.2,212.5 512.4,211.4 C512.6,210.3 513.8,208.5 514.7,207.9 C515.5,207.3 516.6,207.5 517.3,207.7 C518.0,207.9 518.7,208.5 518.8,209.2 C518.9,209.9 518.3,211.1 517.8,212.0Z" stroke-width="1.65"/><path d="M557.5,223.6 C557.2,224.9 555.9,225.7 555.1,226.5 C554.3,227.2 553.3,228.4 552.7,228.1 C552.2,227.7 551.8,225.8 551.7,224.6 C551.7,223.3 552.0,221.7 552.5,220.7 C552.9,219.8 553.7,219.2 554.5,218.8 C555.3,218.4 556.7,217.8 557.2,218.6 C557.7,219.4 557.9,222.2 557.5,223.6Z" stroke-width="1.65"/><path d="M560.4,250.5 C560.2,251.0 559.8,251.6 559.2,251.8 C558.5,252.0 557.3,252.1 556.4,251.9 C555.5,251.6 553.7,251.0 553.5,250.4 C553.3,249.9 554.5,249.3 555.1,248.8 C555.7,248.4 556.3,247.8 557.1,247.8 C557.9,247.8 559.5,248.2 560.1,248.7 C560.6,249.1 560.5,250.0 560.4,250.5Z" stroke-width="1.65"/><path d="M551.7,252.8 C551.6,253.2 550.6,253.6 549.6,253.7 C548.6,253.7 546.7,253.6 545.7,253.3 C544.7,253.0 544.1,252.3 543.8,251.9 C543.4,251.5 543.3,251.1 543.7,250.9 C544.1,250.7 545.3,250.6 546.4,250.7 C547.5,250.8 549.3,251.0 550.1,251.3 C551.0,251.7 551.8,252.4 551.7,252.8Z" stroke-width="1.5499999999999998"/><circle cx="548" cy="216" r="1" fill="#000" stroke="none"/><path d="M526.7,240.0 C527.7,240.9 528.0,242.6 528.2,243.5 C528.4,244.3 528.4,245.0 527.9,245.1 C527.4,245.3 526.3,244.9 525.4,244.3 C524.4,243.6 523.2,242.3 522.4,241.3 C521.7,240.3 520.9,238.9 520.9,238.2 C521.0,237.6 521.8,237.3 522.7,237.6 C523.7,237.9 525.8,239.0 526.7,240.0Z" stroke-width="1.65"/><path d="M533.6,248.9 C534.3,249.6 534.6,250.4 534.8,251.1 C535.0,251.7 535.2,252.7 534.9,252.9 C534.5,253.1 533.4,252.7 532.6,252.2 C531.8,251.7 530.7,250.8 530.0,249.9 C529.4,249.0 528.6,247.5 528.8,247.0 C528.9,246.4 530.1,246.4 530.9,246.7 C531.8,247.0 533.0,248.2 533.6,248.9Z" stroke-width="1.5499999999999998"/><path d="M513.7,250.4 C514.0,251.2 514.1,252.1 513.9,252.7 C513.8,253.2 513.2,253.8 512.8,253.7 C512.4,253.6 511.9,252.8 511.4,252.2 C511.0,251.6 510.2,251.0 510.1,250.3 C510.0,249.7 510.4,248.8 510.8,248.4 C511.2,248.1 512.0,248.0 512.5,248.3 C513.0,248.7 513.5,249.7 513.7,250.4Z" stroke-width="1.5499999999999998"/><path d="M516.1,258.5 C516.1,259.1 515.6,260.0 515.3,260.4 C515.0,260.8 514.5,261.1 514.2,260.9 C513.9,260.7 513.7,260.0 513.5,259.4 C513.3,258.8 513.0,257.8 513.2,257.3 C513.3,256.8 513.9,256.6 514.3,256.5 C514.6,256.5 514.9,256.6 515.2,256.9 C515.5,257.2 516.1,257.9 516.1,258.5Z" stroke-width="1.5499999999999998"/><path d="M527.7,256.2 C527.7,256.7 527.5,257.3 527.1,257.6 C526.8,258.0 526.2,258.3 525.8,258.2 C525.5,258.1 525.1,257.4 524.9,256.9 C524.8,256.5 524.8,255.9 525.0,255.5 C525.1,255.1 525.5,254.5 525.9,254.4 C526.2,254.3 526.8,254.5 527.1,254.8 C527.4,255.1 527.7,255.7 527.7,256.2Z" stroke-width="1.5499999999999998"/><path d="M541.0,256.2 C541.0,256.6 540.5,256.9 540.0,257.3 C539.6,257.6 538.9,258.3 538.4,258.3 C537.9,258.2 537.1,257.5 536.9,257.0 C536.7,256.6 537.1,256.0 537.4,255.6 C537.6,255.2 538.1,254.8 538.6,254.7 C539.1,254.6 539.9,254.6 540.3,254.9 C540.7,255.2 541.1,255.8 541.0,256.2Z" stroke-width="1.5499999999999998"/><path d="M546.6,267.9 C546.5,268.7 545.6,269.5 544.9,270.2 C544.1,270.8 542.9,272.0 542.1,271.8 C541.2,271.6 539.9,270.0 539.8,268.9 C539.6,267.8 540.6,266.1 541.2,265.2 C541.9,264.3 542.9,263.5 543.7,263.5 C544.4,263.5 545.2,264.5 545.7,265.2 C546.2,266.0 546.8,267.1 546.6,267.9Z" stroke-width="1.65"/><path d="M536.8,269.3 C536.8,270.2 536.7,271.1 536.2,271.6 C535.7,272.1 534.8,272.2 534.1,272.1 C533.3,271.9 531.9,271.6 531.7,270.9 C531.4,270.3 532.1,268.8 532.5,268.1 C532.9,267.5 533.4,267.2 534.1,266.9 C534.8,266.6 536.3,265.8 536.7,266.2 C537.2,266.6 536.9,268.4 536.8,269.3Z" stroke-width="1.65"/><path d="M520.8,265.0 C520.8,265.5 520.4,265.9 520.0,266.2 C519.7,266.5 519.2,266.9 518.8,266.8 C518.5,266.7 518.3,266.0 518.1,265.6 C517.9,265.2 517.6,264.7 517.7,264.2 C517.8,263.7 518.3,263.0 518.8,262.8 C519.2,262.7 520.0,263.0 520.4,263.3 C520.7,263.7 520.9,264.5 520.8,265.0Z" stroke-width="1.4500000000000002"/><path d="M524.3,271.0 C524.3,271.6 523.8,272.2 523.5,272.5 C523.2,272.8 522.7,273.1 522.4,273.0 C522.1,272.9 521.8,272.3 521.6,271.8 C521.4,271.3 521.0,270.4 521.2,269.9 C521.3,269.4 521.9,269.0 522.4,268.8 C522.8,268.7 523.4,268.7 523.8,269.0 C524.1,269.4 524.4,270.4 524.3,271.0Z" stroke-width="1.4500000000000002"/><path d="M518.3,280.3 C518.2,280.8 517.8,281.3 517.2,281.6 C516.7,282.0 515.8,282.6 515.0,282.6 C514.2,282.5 512.9,281.9 512.6,281.4 C512.2,280.8 512.3,279.8 512.7,279.3 C513.1,278.7 514.1,278.2 515.0,278.1 C515.8,277.9 517.2,278.1 517.7,278.5 C518.3,278.9 518.3,279.8 518.3,280.3Z" stroke-width="1.5499999999999998"/><path d="M540.7,279.6 C540.5,280.1 539.7,280.6 539.3,280.8 C538.8,281.1 538.2,281.3 537.9,281.1 C537.5,280.9 537.3,280.0 537.4,279.5 C537.5,278.9 537.9,278.2 538.2,277.9 C538.6,277.5 539.0,277.3 539.4,277.2 C539.7,277.2 540.2,277.3 540.4,277.7 C540.6,278.1 540.9,279.1 540.7,279.6Z" stroke-width="1.4500000000000002"/><path d="M556.0,271.2 C556.2,271.5 556.5,271.8 555.9,272.5 C555.4,273.2 553.8,274.6 552.9,275.1 C551.9,275.7 550.9,275.8 550.3,275.8 C549.6,275.9 548.7,275.9 548.9,275.4 C549.0,274.9 550.2,273.6 551.2,272.8 C552.2,272.0 554.2,270.8 555.0,270.5 C555.8,270.2 555.9,270.9 556.0,271.2Z" stroke-width="1.5499999999999998"/><path d="M542.1,289.6 C542.0,290.1 541.6,290.7 541.3,290.9 C540.9,291.2 540.2,291.4 539.8,291.3 C539.4,291.2 538.9,290.7 538.7,290.3 C538.5,289.9 538.5,289.3 538.7,288.9 C538.8,288.4 539.2,287.7 539.7,287.5 C540.2,287.3 541.3,287.4 541.7,287.7 C542.1,288.1 542.1,289.1 542.1,289.6Z" stroke-width="1.4500000000000002"/><path d="M555.5,290.2 C555.3,290.6 554.4,290.9 553.6,291.0 C552.9,291.1 551.8,291.1 551.0,290.9 C550.2,290.7 549.0,290.1 548.8,289.7 C548.6,289.4 549.5,289.0 550.0,288.8 C550.4,288.5 550.8,288.0 551.5,288.0 C552.3,288.0 553.8,288.3 554.4,288.7 C555.1,289.1 555.6,289.8 555.5,290.2Z" stroke-width="1.4500000000000002"/><circle cx="529" cy="279" r="1" fill="#000" stroke="none"/><circle cx="546" cy="281" r="1" fill="#000" stroke="none"/><circle cx="508" cy="268" r="0.9" fill="#000" stroke="none"/><circle cx="532" cy="262" r="0.9" fill="#000" stroke="none"/><circle cx="486" cy="250" r="1.2" fill="#000" stroke="none"/><circle cx="489" cy="254" r="1" fill="#000" stroke="none"/><circle cx="492" cy="259" r="1" fill="#000" stroke="none"/><path d="M482.6,303.0 C482.5,303.9 482.2,305.2 481.8,305.6 C481.4,306.1 480.5,306.2 480.1,305.9 C479.7,305.6 479.4,304.8 479.1,304.1 C478.9,303.4 478.5,302.1 478.6,301.5 C478.8,300.9 479.6,300.5 480.1,300.3 C480.7,300.1 481.4,299.9 481.8,300.3 C482.2,300.7 482.6,302.1 482.6,303.0Z" stroke-width="1.5499999999999998"/><circle cx="487" cy="312" r="1" fill="#000" stroke="none"/><ellipse cx="332" cy="70" rx="5" ry="1.1" transform="rotate(27 332 70)" stroke-width="1"/><ellipse cx="340" cy="78" rx="5" ry="1.1" transform="rotate(27 340 78)" stroke-width="1"/><ellipse cx="326" cy="74" rx="4" ry="1.1" transform="rotate(27 326 74)" stroke-width="1"/><ellipse cx="320" cy="64" rx="4" ry="1.1" transform="rotate(27 320 64)" stroke-width="1"/><ellipse cx="336" cy="66" rx="5" ry="1.1" transform="rotate(27 336 66)" stroke-width="1"/><ellipse cx="346" cy="84" rx="4" ry="1.1" transform="rotate(27 346 84)" stroke-width="1"/><path d="M742.4,437.1 C742.1,437.7 739.7,437.6 738.4,437.4 C737.2,437.2 735.9,436.7 734.7,435.9 C733.5,435.1 731.6,433.6 731.4,432.6 C731.2,431.7 732.4,430.4 733.4,430.2 C734.4,430.0 736.3,430.9 737.4,431.4 C738.5,432.0 739.3,432.7 740.2,433.6 C741.0,434.6 742.6,436.5 742.4,437.1Z" stroke-width="1.35"/><path d="M744.1,436.0 C744.1,436.6 744.3,437.5 743.9,437.9 C743.4,438.3 742.0,438.4 741.4,438.2 C740.7,438.1 740.5,437.3 740.1,436.7 C739.8,436.2 739.2,435.5 739.4,435.0 C739.6,434.5 740.6,433.7 741.3,433.6 C742.0,433.5 743.2,433.9 743.7,434.3 C744.1,434.7 744.0,435.4 744.1,436.0Z" stroke-width="1.25"/><path d="M753.3,465.5 C753.7,466.3 754.2,467.6 754.1,468.2 C754.0,468.7 753.1,469.0 752.5,469.0 C752.0,469.1 751.4,468.7 750.8,468.2 C750.1,467.7 748.7,466.9 748.5,466.1 C748.2,465.4 748.8,464.1 749.3,463.7 C749.7,463.2 750.7,463.2 751.4,463.5 C752.0,463.8 752.8,464.7 753.3,465.5Z" stroke-width="1.15"/><path d="M709.7,496.9 C709.9,497.2 708.3,498.3 707.2,499.0 C706.1,499.6 704.6,500.6 703.3,501.0 C702.0,501.4 699.8,501.6 699.3,501.5 C698.8,501.3 699.6,500.4 700.2,499.8 C700.8,499.3 701.7,498.7 702.7,498.2 C703.7,497.8 705.1,497.3 706.3,497.1 C707.5,496.9 709.6,496.6 709.7,496.9Z" stroke-width="1.15"/></g>
<path d="M196.2,33.1L198.3,30.6M229.2,34.1L226.1,29.7M257.0,33.7L254.5,30.2M285.1,33.1L283.0,30.6M312.5,33.0L311.3,30.9M340.2,33.2L339.4,31.0M367.8,33.4L367.4,31.0M396.1,33.8L395.5,30.6M424.6,34.3L423.5,30.1M452.5,34.3L451.7,30.1M481.3,34.2L479.8,30.1M511.6,32.4L507.8,30.3M540.2,30.7L535.9,30.4M568.3,30.4L564.0,30.4M596.5,30.4L592.2,30.4M624.7,30.4L620.4,30.4M652.8,30.4L648.5,30.4M681.0,30.4L676.7,30.4M709.1,30.3L704.8,30.4M736.8,30.1L733.5,30.4M764.4,29.9L762.0,30.3M791.9,29.5L790.1,30.2M209.5,59.5L211.6,57.0M238.2,59.8L239.8,57.0M270.7,59.0L268.2,56.9M298.7,59.3L296.3,56.9M325.8,59.4L324.6,57.3M353.0,59.8L352.6,57.4M380.8,59.8L380.6,57.4M410.2,60.6L408.7,56.5M437.6,60.7L436.8,56.5M465.8,60.7L465.0,56.5M496.3,59.4L493.0,56.6M525.8,57.6L520.6,56.7M554.0,56.4L548.7,56.9M581.8,56.5L577.5,56.8M609.9,56.8L605.6,56.8M638.1,56.8L633.8,56.8M666.2,56.8L661.9,56.8M693.9,56.8L690.6,56.8M722.0,56.5L718.7,56.8M749.7,56.3L747.3,56.7M777.1,55.9L775.3,56.6M804.9,56.1L803.4,56.7M141.3,84.5L141.9,83.5M169.6,84.5L170.2,83.5M196.1,86.5L198.6,83.0M223.7,86.6L227.1,82.6M285.9,85.0L283.1,83.3M312.8,85.0L311.4,83.6M339.9,85.1L339.3,83.6M367.6,85.2L367.4,83.6M393.8,84.2L395.2,83.4M425.5,87.3L423.3,82.5M451.9,86.7L451.8,83.4M479.9,87.2L479.9,82.9M511.8,85.8L507.4,82.7M540.2,83.2L535.9,83.2M264.7,110.8L267.8,109.7M298.2,112.5L296.3,109.8M326.6,113.5L323.9,108.9M352.8,113.1L352.5,109.8M410.8,113.1L408.7,109.3M437.4,112.6L437.0,110.2M466.3,109.2L465.3,109.5M495.2,108.2L493.6,109.3M525.7,107.1L520.3,110.2M553.0,107.6L549.2,109.8M280.9,139.5L283.0,135.7M311.4,141.0L310.9,134.7M339.9,139.9L339.1,135.7M366.3,139.9L367.4,135.7M392.3,137.5L395.3,136.1M424.8,139.3L423.7,136.2M455.9,134.1L451.1,136.3M482.9,134.2L480.1,135.9M514.7,133.6L505.0,137.1M541.5,134.6L534.5,136.5M266.7,160.9L267.7,162.1M297.2,167.8L295.9,160.6M324.0,165.9L324.3,162.6M353.8,163.9L352.8,162.7M382.2,165.4L380.6,162.6M407.3,165.0L408.5,162.9M440.4,162.4L437.1,162.4M467.2,160.3L465.5,162.0M494.2,163.5L493.4,162.6M522.3,160.1L521.6,161.9M548.2,164.6L549.2,162.8M282.2,192.7L283.0,188.5M312.0,191.6L311.2,189.4M338.9,192.8L339.2,188.5M365.6,189.8L367.0,189.0M396.8,189.6L395.8,189.0M426.5,188.0L424.2,188.6M453.4,186.9L452.1,188.4M479.9,185.3L479.9,188.6M507.6,191.8L508.0,189.4M536.2,193.3L536.2,188.0M270.1,217.3L268.4,215.6M297.9,218.2L296.3,215.4M326.3,215.5L324.7,215.3M350.4,217.3L352.1,215.6M377.5,217.0L380.3,215.3M409.4,218.6L408.8,215.4M435.9,216.9L436.7,215.5M466.5,214.7L465.4,215.1M492.4,213.9L493.1,214.9M521.4,218.2L521.4,215.8M549.8,219.2L549.5,214.9M283.9,238.8L283.1,241.0M313.5,241.6L311.5,241.6M341.2,241.6L339.6,241.6M367.5,239.1L367.3,241.1M398.3,240.6L396.1,241.4M421.7,243.9L423.2,242.1M449.9,243.2L451.4,241.9M478.5,242.1L479.6,241.7M508.4,244.6L508.2,242.2M536.9,245.5L536.1,241.3M271.9,267.0L267.7,268.1M299.2,268.3L296.8,268.1M327.3,268.0L324.9,268.0M355.6,270.6L352.3,267.8M382.5,270.9L380.6,268.2M411.6,269.0L409.4,268.2M434.0,268.8L436.3,268.2M462.1,269.8L464.9,268.1M488.8,268.8L494.0,267.9M519.5,269.6L521.0,268.3M549.0,271.0L549.4,268.6M284.9,291.5L283.0,294.2M311.9,297.8L311.1,294.6M341.2,297.3L339.3,294.6M368.5,297.7L367.4,294.6M395.2,297.9L395.5,294.6M420.6,292.7L423.4,294.3M448.8,294.7L451.2,294.5M477.4,294.0L479.4,294.3M504.2,293.4L508.4,294.5M533.4,297.2L536.4,294.2M271.2,319.3L268.2,320.7M298.2,323.7L296.3,321.0M326.0,323.3L324.6,321.3M352.8,323.8L352.6,321.4M378.0,322.5L380.0,321.1M404.9,321.5L409.1,320.7M433.4,318.8L437.2,320.9M463.0,318.7L464.7,320.4M491.5,319.8L492.9,320.6M518.0,323.7L522.0,320.3M547.6,323.1L549.1,321.3M577.0,325.2L577.9,320.0M604.6,325.6L606.2,319.5M633.1,325.7L634.4,319.5M660.6,325.6L662.2,319.5M686.5,319.1L689.3,320.7M713.8,322.3L718.8,320.5M744.6,324.9L746.8,320.1M772.0,319.8L774.2,320.6M799.3,320.1L803.5,320.9M282.9,351.2L282.9,346.9M311.7,351.1L310.9,346.9M340.6,351.0L339.1,346.9M366.7,350.6L367.3,347.4M392.5,345.4L395.3,347.1M420.8,344.4L423.8,347.4M453.1,349.9L452.1,347.7M477.2,349.4L479.7,347.3M505.4,349.4L507.9,347.3M534.9,352.0L536.5,345.9M562.9,352.5L564.8,345.5M591.5,353.1L592.9,344.9M619.7,353.1L621.1,344.9M647.3,352.0L649.2,346.0M674.3,346.9L678.6,347.2M701.4,347.2L708.7,347.2M731.6,350.6L735.0,346.6M763.4,350.6L762.6,347.4M786.5,344.0L792.5,348.2M269.6,371.7L268.3,373.2M298.8,376.7L296.0,373.4M327.5,378.1L323.3,372.1M355.2,378.4L351.6,372.0M378.0,375.3L380.0,373.9M408.0,376.5L408.6,374.2M433.9,374.1L436.3,373.7M465.6,370.6L465.2,373.0M493.5,370.6L493.3,373.0M523.7,375.5L521.9,374.0M550.3,378.0L549.4,372.8M578.0,379.1L577.7,371.8M605.9,379.1L605.9,371.8M633.3,378.0L634.2,372.8M659.4,376.1L661.8,373.7M685.2,372.4L690.3,373.8M713.7,371.1L719.1,374.2M746.0,370.6L746.0,373.0M770.4,370.7L774.4,374.1M802.5,369.1L802.5,374.4M288.1,401.9L281.2,399.4M315.5,402.1L309.8,399.5M342.1,403.4L338.7,399.4M369.6,403.3L367.1,399.8M393.0,399.6L395.0,399.9M425.1,397.4L423.9,399.5M454.7,398.0L452.0,399.9M483.9,400.0L479.6,400.0M512.2,401.9L507.4,399.7M539.1,403.4L535.7,399.4M566.5,403.9L563.9,399.3M594.8,403.9L592.1,399.3M621.2,403.0L620.8,400.6M647.4,400.0L649.4,400.0M676.5,397.0L678.2,399.8M704.6,396.1L707.3,400.7M734.2,396.0L734.5,400.3M759.5,399.7L761.9,399.9M787.8,396.2L791.8,401.0M272.0,426.7L267.7,426.4M300.1,428.7L295.5,426.0M326.9,429.5L324.1,426.2M355.3,429.2L352.3,426.2M379.2,424.2L380.2,426.0M409.4,429.8L408.8,426.6M439.8,424.4L437.1,426.3M467.1,422.9L465.0,426.7M496.5,428.7L493.0,426.2M525.6,427.9L520.6,426.1M553.4,428.7L548.8,426.0M581.7,428.7L577.1,426.0M609.9,426.7L605.6,426.4M637.9,425.0L633.8,426.5M663.1,423.1L662.0,426.2M689.5,422.4L689.5,426.7M718.2,421.9L718.0,427.2M745.1,423.0L745.9,426.2M771.5,422.5L774.2,427.1M799.9,425.2L803.0,426.3M283.6,456.7L282.8,452.5M312.5,457.0L310.7,452.0M344.0,455.6L337.6,451.9M369.9,449.7L367.1,453.0M395.5,456.8L395.5,452.5M422.7,456.2L423.5,453.0M451.8,456.3L451.8,453.0M479.9,455.8L479.9,453.4M512.4,451.6L507.3,453.0M540.2,452.5L535.9,452.8M568.8,453.4L563.5,452.7M597.0,450.7L591.3,453.3M624.8,449.9L619.6,453.5M652.2,449.9L648.2,453.3M678.7,449.2L676.9,453.1M706.8,448.9L705.7,453.1M734.8,448.8L734.5,453.1M762.5,448.8L762.5,453.1M791.3,448.8L791.0,453.1M268.8,483.6L267.9,478.4M297.9,483.9L295.8,478.0M325.5,483.5L324.1,478.4M353.3,483.6L352.4,478.4M380.5,483.7L380.5,478.4M409.2,483.7L408.7,478.4M437.6,483.1L436.8,478.9M465.7,482.6L465.1,479.4M493.2,482.2L493.2,479.8M523.4,482.1L521.5,479.4M552.9,479.8L549.7,479.2M581.2,474.9L576.7,480.6M607.6,474.0L605.3,480.9M637.6,475.7L633.2,480.1M665.1,475.4L661.1,480.2M692.2,474.4L688.6,480.8M719.0,473.8L717.7,481.0M746.5,473.7L745.8,481.0M772.9,474.3L774.0,480.5M802.8,476.2L802.6,478.6M284.1,509.9L282.7,504.8M312.5,509.8L310.7,504.8M339.2,510.1L339.2,504.8M368.5,509.9L367.1,504.8M397.0,509.8L395.2,504.8M425.0,509.4L423.5,505.3M454.5,507.8L452.0,505.7M483.4,505.3L480.1,505.6M511.6,507.6L507.8,505.5M539.7,505.6L536.4,505.6M567.6,503.3L564.1,505.8M595.6,501.7L591.7,506.6M623.6,501.5L620.0,506.7M651.5,500.8L647.9,507.2M677.5,500.1L676.8,507.4M708.8,500.4L704.6,507.6M734.0,499.6L734.7,507.9M763.3,501.7L762.4,505.9M268.8,536.4L267.9,531.2M298.1,536.1L295.9,531.3M326.2,536.1L324.0,531.3M354.4,536.1L352.2,531.3M382.0,536.2L380.2,531.2M411.1,535.3L408.6,531.8M440.4,534.0L436.6,531.9M469.1,532.0L464.8,532.0M497.6,531.2L492.4,532.1M525.5,530.1L520.7,532.3M550.1,528.6L549.5,531.8M581.8,529.0L576.8,532.8M609.4,528.5L605.0,532.9M636.4,527.0L633.3,533.6M663.6,527.3L661.5,533.2M688.6,525.6L689.9,534.8M721.7,526.7L716.4,534.3M748.3,527.0L745.2,533.6M284.1,562.2L282.8,558.1M312.4,562.2L310.9,558.1M340.6,562.2L339.1,558.1M368.7,562.2L367.2,558.1M397.0,562.1L395.4,558.1M425.6,561.9L423.5,558.1M455.3,560.4L451.5,558.2M483.9,558.1L479.6,558.4M512.0,557.7L507.8,558.5M540.1,557.4L535.9,558.5M568.0,555.8L563.6,558.9M596.2,555.1L591.5,559.3M624.2,554.9L619.8,559.3M651.7,554.3L648.1,559.5M678.3,553.6L676.7,559.7M707.5,553.7L705.4,559.6M736.2,553.7L734.1,559.6M763.7,554.1L762.3,559.2" stroke="#000" stroke-width="1.15" fill="none"/>
<path d="M200.6,27.7L199.4,31.5L197.1,29.6ZM224.0,26.7L227.4,28.9L224.9,30.6ZM252.4,27.1L255.7,29.3L253.3,31.0ZM280.7,27.7L284.2,29.6L281.9,31.5ZM309.5,27.8L312.5,30.2L310.1,31.6ZM338.2,27.6L340.8,30.5L338.1,31.5ZM366.8,27.4L368.8,30.7L366.0,31.2ZM394.9,27.0L397.0,30.3L394.1,30.9ZM422.6,26.5L425.0,29.7L422.1,30.5ZM451.1,26.5L453.2,29.8L450.3,30.4ZM478.5,26.6L481.2,29.6L478.4,30.6ZM504.6,28.4L508.6,29.0L507.1,31.5ZM532.2,30.1L536.0,28.9L535.8,31.8ZM560.3,30.4L564.0,28.9L564.0,31.9ZM588.5,30.4L592.2,28.9L592.2,31.9ZM616.7,30.4L620.4,28.9L620.4,31.9ZM644.8,30.4L648.5,28.9L648.5,31.9ZM673.0,30.4L676.7,28.9L676.7,31.9ZM701.1,30.5L704.7,28.9L704.9,31.9ZM729.8,30.7L733.4,28.9L733.6,31.9ZM758.4,30.9L761.7,28.9L762.2,31.7ZM787.3,31.3L789.7,29.1L790.5,31.4ZM213.9,54.1L212.7,57.9L210.4,56.0ZM241.7,53.8L241.1,57.7L238.5,56.2ZM265.3,54.6L269.1,55.8L267.2,58.1ZM293.7,54.3L297.4,55.9L295.3,58.0ZM322.8,54.2L325.8,56.6L323.4,58.0ZM352.0,53.8L354.0,57.1L351.2,57.6ZM380.2,53.8L382.0,57.3L379.1,57.5ZM407.4,53.0L410.1,56.0L407.3,57.0ZM436.2,52.9L438.3,56.2L435.4,56.8ZM464.4,52.9L466.5,56.2L463.6,56.8ZM490.1,54.2L493.9,55.5L492.0,57.7ZM517.0,56.0L520.9,55.2L520.4,58.1ZM545.0,57.2L548.6,55.4L548.8,58.3ZM573.8,57.1L577.4,55.4L577.6,58.3ZM601.9,56.8L605.6,55.3L605.6,58.3ZM630.1,56.8L633.8,55.3L633.8,58.3ZM658.2,56.8L661.9,55.3L661.9,58.3ZM686.9,56.8L690.6,55.3L690.6,58.3ZM715.0,57.1L718.6,55.3L718.8,58.3ZM743.7,57.3L747.0,55.3L747.5,58.1ZM772.5,57.7L774.9,55.5L775.7,57.8ZM801.1,57.5L803.0,55.8L803.7,57.6ZM142.8,81.9L142.6,83.8L141.3,83.1ZM171.1,81.9L170.8,83.8L169.5,83.1ZM200.7,79.9L199.8,83.8L197.4,82.1ZM229.5,79.8L228.2,83.5L226.0,81.6ZM279.9,81.5L283.8,82.0L282.3,84.6ZM309.2,81.4L312.2,82.7L310.5,84.4ZM338.5,81.3L340.2,83.2L338.4,83.9ZM367.0,81.2L368.3,83.4L366.4,83.8ZM397.2,82.2L395.6,84.2L394.7,82.6ZM421.7,79.1L424.6,81.8L421.9,83.1ZM451.7,79.7L453.3,83.3L450.3,83.5ZM479.9,79.2L481.4,82.9L478.4,82.9ZM504.4,80.6L508.3,81.5L506.6,84.0ZM532.2,83.2L535.9,81.7L535.9,84.7ZM271.3,108.4L268.3,111.1L267.3,108.3ZM294.2,106.7L297.5,108.9L295.1,110.6ZM322.1,105.7L325.2,108.2L322.6,109.6ZM352.2,106.1L354.0,109.7L351.0,109.9ZM406.8,106.1L409.9,108.6L407.4,110.1ZM436.4,106.6L438.4,109.9L435.6,110.4ZM463.9,110.0L465.1,109.0L465.5,110.1ZM491.2,111.0L492.9,108.3L494.3,110.3ZM517.1,112.1L519.5,109.0L521.0,111.5ZM546.0,111.6L548.5,108.5L550.0,111.0ZM284.9,132.5L284.3,136.5L281.8,135.0ZM310.6,131.0L312.4,134.6L309.4,134.8ZM338.5,132.1L340.6,135.4L337.7,136.0ZM368.3,132.1L368.8,136.1L365.9,135.3ZM398.7,134.5L395.9,137.4L394.7,134.7ZM422.4,132.7L425.1,135.7L422.3,136.7ZM447.7,137.9L450.4,135.0L451.7,137.7ZM476.9,137.8L479.3,134.6L480.8,137.2ZM501.5,138.4L504.5,135.7L505.5,138.5ZM530.9,137.4L534.1,135.0L534.8,137.9ZM269.3,163.9L267.0,162.7L268.5,161.5ZM295.2,157.0L297.3,160.4L294.4,160.9ZM324.6,158.9L325.8,162.7L322.8,162.5ZM351.2,160.9L353.5,162.1L352.0,163.3ZM378.8,159.4L381.9,161.8L379.3,163.3ZM410.3,159.8L409.7,163.6L407.3,162.2ZM433.4,162.4L437.1,160.9L437.1,163.9ZM463.0,164.5L464.5,161.0L466.5,163.0ZM492.2,161.3L493.9,162.2L492.8,163.1ZM520.5,164.7L520.4,161.5L522.7,162.3ZM550.8,160.2L550.3,163.4L548.2,162.2ZM283.6,184.9L284.4,188.8L281.5,188.2ZM310.0,186.0L312.6,188.9L309.9,189.9ZM339.5,184.8L340.7,188.6L337.8,188.4ZM369.0,187.8L367.4,189.8L366.5,188.2ZM394.2,188.1L396.1,188.3L395.4,189.6ZM420.7,189.6L423.8,187.3L424.6,190.0ZM450.2,190.7L451.2,187.6L453.0,189.2ZM479.9,192.3L478.4,188.6L481.4,188.6ZM508.6,185.8L509.4,189.6L506.6,189.1ZM536.2,184.3L537.7,188.0L534.7,188.0ZM265.9,213.1L269.4,214.6L267.4,216.6ZM294.4,212.2L297.6,214.6L295.0,216.1ZM322.3,214.9L324.9,214.3L324.5,216.2ZM354.6,213.1L353.1,216.6L351.1,214.6ZM383.5,213.5L381.1,216.6L379.6,214.0ZM408.2,211.8L410.3,215.1L407.4,215.7ZM437.9,213.5L437.5,216.0L435.9,215.1ZM463.7,215.7L465.1,214.4L465.6,215.8ZM493.9,216.5L492.4,215.3L493.7,214.6ZM521.4,212.2L522.8,215.8L520.0,215.8ZM549.2,211.2L550.9,214.8L548.0,215.0ZM281.9,244.4L281.8,240.5L284.5,241.5ZM308.5,241.6L311.5,240.4L311.5,242.8ZM337.2,241.6L339.6,240.6L339.6,242.6ZM367.1,244.1L366.1,241.0L368.5,241.2ZM392.7,242.6L395.6,240.0L396.6,242.7ZM425.5,239.3L424.3,243.0L422.1,241.1ZM453.7,240.0L452.2,242.8L450.6,241.0ZM481.3,241.1L479.9,242.4L479.4,241.0ZM507.8,238.6L509.6,242.1L506.7,242.3ZM535.5,237.7L537.6,241.0L534.7,241.6ZM264.1,269.0L267.3,266.6L268.1,269.5ZM293.2,267.7L296.9,266.6L296.7,269.5ZM321.3,268.0L324.9,266.6L324.9,269.4ZM349.4,265.4L353.2,266.7L351.3,268.9ZM378.5,265.1L381.8,267.3L379.4,269.0ZM406.0,267.0L409.9,266.9L408.9,269.6ZM439.8,267.2L436.7,269.5L435.9,266.8ZM468.1,266.2L465.7,269.4L464.2,266.8ZM497.6,267.2L494.2,269.3L493.7,266.4ZM523.3,266.4L521.8,269.2L520.2,267.4ZM550.0,265.0L550.8,268.8L548.0,268.3ZM280.9,297.3L281.8,293.4L284.2,295.1ZM310.1,291.0L312.5,294.2L309.6,295.0ZM337.2,291.5L340.5,293.7L338.1,295.4ZM366.1,291.1L368.8,294.1L366.0,295.1ZM395.8,290.9L397.0,294.7L394.0,294.5ZM426.6,296.2L422.7,295.6L424.2,293.0ZM454.8,294.1L451.3,295.9L451.1,293.0ZM482.4,294.8L479.2,295.5L479.6,293.1ZM512.0,295.4L508.0,295.9L508.8,293.0ZM539.0,291.6L537.5,295.2L535.4,293.1ZM264.8,322.3L267.6,319.4L268.8,322.1ZM294.2,317.9L297.5,320.1L295.1,321.8ZM322.6,318.3L325.8,320.5L323.5,322.1ZM352.2,317.8L354.0,321.3L351.1,321.5ZM383.0,319.1L380.8,322.3L379.2,320.0ZM412.7,320.1L409.4,322.2L408.8,319.3ZM440.4,322.8L436.4,322.2L437.9,319.7ZM467.2,322.9L463.7,321.4L465.7,319.4ZM494.9,321.8L492.4,321.4L493.3,319.8ZM524.8,317.9L523.0,321.4L521.1,319.2ZM551.4,318.5L550.2,322.2L548.0,320.3ZM578.6,316.4L579.4,320.3L576.5,319.8ZM607.2,316.0L607.7,319.9L604.8,319.2ZM635.1,315.9L635.8,319.8L632.9,319.2ZM663.2,316.0L663.7,319.9L660.8,319.2ZM692.5,322.6L688.6,322.0L690.1,319.4ZM722.2,319.3L719.3,321.9L718.2,319.1ZM748.4,316.7L748.2,320.7L745.5,319.4ZM777.6,321.8L773.7,321.9L774.7,319.2ZM807.1,321.5L803.2,322.3L803.8,319.4ZM282.9,343.2L284.4,346.9L281.4,346.9ZM310.3,343.3L312.4,346.6L309.5,347.2ZM337.8,343.4L340.5,346.4L337.7,347.4ZM367.9,343.8L368.7,347.7L365.8,347.1ZM398.5,348.9L394.6,348.4L396.1,345.8ZM426.4,350.0L422.8,348.5L424.9,346.4ZM450.5,344.5L453.4,347.1L450.7,348.4ZM482.6,345.0L480.7,348.5L478.8,346.2ZM510.8,345.0L508.9,348.5L507.0,346.2ZM537.5,342.4L538.0,346.3L535.1,345.6ZM565.7,341.9L566.2,345.8L563.3,345.1ZM593.5,341.3L594.4,345.2L591.4,344.7ZM621.7,341.3L622.6,345.2L619.6,344.7ZM650.3,342.4L650.6,346.4L647.8,345.5ZM682.3,347.5L678.5,348.7L678.7,345.8ZM712.4,347.2L708.7,348.7L708.7,345.7ZM737.4,343.8L736.1,347.5L733.9,345.6ZM761.6,343.8L764.0,347.0L761.1,347.8ZM795.5,350.4L791.6,349.4L793.3,347.0ZM266.4,375.5L267.4,372.4L269.2,374.0ZM293.6,370.5L297.1,372.4L294.9,374.3ZM321.1,369.1L324.5,371.3L322.1,373.0ZM349.8,368.8L352.9,371.3L350.3,372.8ZM383.0,371.9L380.8,375.1L379.2,372.8ZM409.6,370.7L410.0,374.6L407.3,373.8ZM439.9,373.1L436.6,375.1L436.1,372.3ZM464.6,376.6L463.8,372.8L466.6,373.3ZM492.9,376.6L491.8,372.9L494.7,373.1ZM519.1,371.7L522.8,372.9L520.9,375.1ZM548.7,369.2L550.8,372.6L547.9,373.1ZM577.6,368.1L579.2,371.7L576.3,371.9ZM605.9,368.1L607.4,371.8L604.4,371.8ZM634.9,369.2L635.7,373.1L632.8,372.6ZM664.4,371.1L662.8,374.8L660.7,372.7ZM693.8,374.8L689.9,375.2L690.7,372.4ZM722.3,376.1L718.4,375.5L719.9,373.0ZM746.0,376.6L744.6,373.0L747.4,373.0ZM777.2,376.5L773.5,375.2L775.4,373.0ZM802.5,378.1L801.0,374.4L804.0,374.4ZM277.7,398.1L281.7,398.0L280.7,400.8ZM306.5,397.9L310.4,398.1L309.2,400.8ZM336.3,396.6L339.8,398.4L337.6,400.3ZM365.0,396.7L368.3,398.9L365.9,400.6ZM398.0,400.4L394.8,401.1L395.2,398.7ZM422.1,402.6L422.7,398.8L425.1,400.2ZM448.9,402.0L451.1,398.7L452.8,401.1ZM475.9,400.0L479.6,398.5L479.6,401.5ZM504.0,398.1L508.0,398.3L506.7,401.0ZM533.3,396.6L536.8,398.4L534.6,400.3ZM562.0,396.1L565.2,398.6L562.6,400.0ZM590.2,396.1L593.4,398.6L590.8,400.0ZM620.2,397.0L622.2,400.3L619.4,400.8ZM652.4,400.0L649.4,401.2L649.4,398.8ZM680.0,403.0L676.9,400.6L679.5,399.1ZM709.1,403.9L706.0,401.4L708.6,400.0ZM734.8,404.0L733.1,400.4L736.0,400.2ZM765.5,400.3L761.8,401.4L762.0,398.5ZM794.2,403.8L790.7,401.9L793.0,400.0ZM264.0,426.1L267.8,424.9L267.6,427.8ZM292.3,424.2L296.2,424.7L294.8,427.3ZM321.7,423.3L325.2,425.2L323.0,427.1ZM349.7,423.6L353.3,425.1L351.2,427.2ZM381.8,428.6L379.2,426.6L381.3,425.4ZM408.2,423.0L410.3,426.3L407.4,426.9ZM434.0,428.4L436.2,425.1L437.9,427.5ZM463.1,429.9L463.7,425.9L466.2,427.4ZM489.9,424.1L493.8,425.0L492.1,427.4ZM517.2,424.9L521.2,424.7L520.1,427.5ZM545.6,424.2L549.5,424.7L548.1,427.3ZM573.9,424.2L577.8,424.7L576.4,427.3ZM601.9,426.1L605.7,424.9L605.5,427.8ZM630.3,427.8L633.3,425.1L634.3,427.9ZM660.7,429.7L660.6,425.7L663.4,426.7ZM689.5,430.4L688.0,426.7L691.0,426.7ZM717.8,430.9L716.5,427.1L719.5,427.3ZM746.9,429.8L744.5,426.6L747.4,425.8ZM776.0,430.3L772.9,427.8L775.5,426.4ZM806.5,427.6L802.5,427.7L803.5,424.9ZM282.2,448.9L284.3,452.2L281.4,452.8ZM309.5,448.6L312.1,451.5L309.3,452.6ZM334.4,450.1L338.4,450.6L336.9,453.2ZM364.7,455.9L366.0,452.1L368.2,454.0ZM395.5,448.8L397.0,452.5L394.0,452.5ZM424.5,449.4L425.0,453.4L422.1,452.6ZM451.8,449.3L453.3,453.0L450.3,453.0ZM479.9,449.8L481.3,453.4L478.5,453.4ZM503.8,454.0L506.9,451.6L507.7,454.4ZM532.2,453.1L535.8,451.4L536.0,454.3ZM559.8,452.2L563.7,451.2L563.3,454.2ZM588.0,454.9L590.7,452.0L591.9,454.7ZM616.6,455.7L618.8,452.3L620.5,454.8ZM645.4,455.7L647.2,452.2L649.1,454.4ZM675.3,456.4L675.5,452.4L678.2,453.7ZM704.8,456.7L704.3,452.7L707.2,453.5ZM734.2,456.8L733.0,453.0L735.9,453.2ZM762.5,456.8L761.0,453.1L764.0,453.1ZM790.7,456.8L789.5,453.0L792.4,453.2ZM267.2,474.8L269.3,478.2L266.4,478.7ZM294.5,474.5L297.1,477.5L294.4,478.5ZM323.1,474.9L325.5,478.0L322.7,478.8ZM351.7,474.8L353.8,478.2L350.9,478.7ZM380.5,474.7L382.0,478.4L379.0,478.4ZM408.4,474.7L410.2,478.3L407.3,478.5ZM436.2,475.3L438.3,478.6L435.4,479.2ZM464.5,475.8L466.6,479.1L463.7,479.7ZM493.2,476.2L494.6,479.8L491.8,479.8ZM519.4,476.3L522.7,478.5L520.3,480.2ZM546.1,478.6L550.0,477.8L549.4,480.7ZM574.4,483.5L575.5,479.7L577.9,481.5ZM604.2,484.4L603.9,480.5L606.8,481.4ZM630.6,482.7L632.1,479.1L634.2,481.2ZM658.7,483.0L659.9,479.2L662.2,481.1ZM686.8,484.0L687.3,480.0L689.9,481.5ZM717.0,484.6L716.2,480.7L719.1,481.2ZM745.5,484.7L744.4,480.9L747.3,481.1ZM774.7,484.1L772.6,480.7L775.5,480.2ZM802.2,482.2L801.1,478.5L804.0,478.7ZM281.7,501.3L284.1,504.4L281.3,505.2ZM309.5,501.4L312.1,504.3L309.3,505.4ZM339.2,501.1L340.7,504.8L337.7,504.8ZM366.1,501.3L368.5,504.4L365.7,505.2ZM394.0,501.4L396.6,504.3L393.8,505.4ZM422.2,501.8L424.9,504.8L422.1,505.8ZM449.1,503.4L452.9,504.6L451.0,506.9ZM476.4,505.9L480.0,504.1L480.2,507.1ZM504.6,503.6L508.6,504.2L507.1,506.7ZM532.7,505.6L536.4,504.1L536.4,507.1ZM561.0,507.9L563.2,504.6L564.9,507.0ZM589.4,509.5L590.5,505.7L592.9,507.5ZM617.8,509.7L618.7,505.8L621.2,507.5ZM646.0,510.4L646.6,506.4L649.2,507.9ZM676.5,511.1L675.4,507.3L678.3,507.5ZM702.8,510.8L703.4,506.9L705.9,508.3ZM735.0,511.6L733.2,508.0L736.2,507.8ZM761.7,509.5L761.0,505.6L763.9,506.2ZM267.2,527.6L269.3,531.0L266.4,531.5ZM294.3,527.9L297.2,530.6L294.5,531.9ZM322.4,527.9L325.3,530.6L322.6,531.9ZM350.6,527.9L353.5,530.6L350.8,531.9ZM379.0,527.8L381.6,530.7L378.8,531.8ZM406.5,528.7L409.8,530.9L407.4,532.6ZM433.4,530.0L437.4,530.6L435.9,533.1ZM461.1,532.0L464.8,530.5L464.8,533.5ZM488.8,532.8L492.2,530.7L492.7,533.6ZM517.3,533.9L520.0,531.0L521.3,533.7ZM548.9,535.4L548.1,531.5L551.0,532.1ZM573.8,535.0L575.9,531.6L577.7,534.0ZM602.4,535.5L603.9,531.9L606.0,534.0ZM631.8,537.0L632.0,533.0L634.7,534.3ZM660.2,536.7L660.1,532.7L662.8,533.7ZM690.4,538.4L688.4,535.0L691.4,534.6ZM714.3,537.3L715.2,533.4L717.6,535.1ZM743.7,537.0L743.9,533.0L746.6,534.3ZM281.7,554.6L284.2,557.7L281.4,558.6ZM309.6,554.6L312.3,557.6L309.5,558.6ZM337.8,554.6L340.5,557.6L337.7,558.6ZM365.9,554.6L368.6,557.6L365.8,558.6ZM394.0,554.7L396.8,557.6L394.0,558.7ZM421.6,554.9L424.7,557.4L422.2,558.9ZM448.3,556.4L452.3,557.0L450.8,559.5ZM475.9,558.7L479.5,557.0L479.7,559.9ZM504.2,559.1L507.5,557.0L508.1,559.9ZM532.3,559.4L535.5,557.0L536.3,559.9ZM560.6,561.0L562.8,557.6L564.5,560.1ZM588.8,561.7L590.5,558.2L592.5,560.4ZM617.2,561.9L618.7,558.3L620.8,560.4ZM645.9,562.5L646.8,558.6L649.3,560.3ZM675.7,563.2L675.2,559.3L678.1,560.0ZM704.1,563.1L704.0,559.1L706.7,560.1ZM732.8,563.1L732.7,559.1L735.4,560.1ZM761.3,562.7L760.9,558.8L763.7,559.6Z" fill="#000" stroke="#000" stroke-width="0.3" stroke-linejoin="round"/>
<g stroke="#fff" stroke-width="2.4" fill="none" stroke-dasharray="9 5"><line x1="256" y1="216.6" x2="445.5" y2="272.6"/><line x1="500" y1="233.5" x2="562" y2="185"/><line x1="528" y1="327.8" x2="252" y2="465"/></g>
<g stroke="#fff" stroke-width="2.2" fill="none"><circle cx="493.5" cy="240.2" r="8.2"/><circle cx="453.7" cy="274.4" r="8.2"/><circle cx="536.5" cy="321.6" r="8.2"/></g>
</g>
<rect x="114.5" y="2.5" width="703.5" height="556" fill="none" stroke="#222" stroke-width="1"/>
<rect x="0" y="89.6" width="256" height="234.70000000000002" fill="#fff"/>
<g stroke="#c8c8c8" stroke-width="0.7" stroke-dasharray="1 1.6"><line x1="94.4" y1="90.7" x2="94.4" y2="287.7"/><line x1="132.9" y1="90.7" x2="132.9" y2="287.7"/><line x1="171.5" y1="90.7" x2="171.5" y2="287.7"/><line x1="210.0" y1="90.7" x2="210.0" y2="287.7"/><line x1="55.8" y1="258.1" x2="248.6" y2="258.1"/><line x1="55.8" y1="228.4" x2="248.6" y2="228.4"/><line x1="55.8" y1="198.8" x2="248.6" y2="198.8"/><line x1="55.8" y1="169.2" x2="248.6" y2="169.2"/><line x1="55.8" y1="139.5" x2="248.6" y2="139.5"/><line x1="55.8" y1="109.9" x2="248.6" y2="109.9"/></g>
<rect x="55.8" y="90.7" width="192.8" height="197.0" fill="none" stroke="#8a8a8a" stroke-width="1"/>
<g stroke="#777" stroke-width="0.8"><line x1="55.8" y1="287.7" x2="55.8" y2="291.7"/><line x1="55.8" y1="90.7" x2="55.8" y2="93.9"/><line x1="63.5" y1="287.7" x2="63.5" y2="289.7"/><line x1="63.5" y1="90.7" x2="63.5" y2="92.3"/><line x1="71.2" y1="287.7" x2="71.2" y2="289.7"/><line x1="71.2" y1="90.7" x2="71.2" y2="92.3"/><line x1="78.9" y1="287.7" x2="78.9" y2="289.7"/><line x1="78.9" y1="90.7" x2="78.9" y2="92.3"/><line x1="86.6" y1="287.7" x2="86.6" y2="289.7"/><line x1="86.6" y1="90.7" x2="86.6" y2="92.3"/><line x1="94.4" y1="287.7" x2="94.4" y2="291.7"/><line x1="94.4" y1="90.7" x2="94.4" y2="93.9"/><line x1="102.1" y1="287.7" x2="102.1" y2="289.7"/><line x1="102.1" y1="90.7" x2="102.1" y2="92.3"/><line x1="109.8" y1="287.7" x2="109.8" y2="289.7"/><line x1="109.8" y1="90.7" x2="109.8" y2="92.3"/><line x1="117.5" y1="287.7" x2="117.5" y2="289.7"/><line x1="117.5" y1="90.7" x2="117.5" y2="92.3"/><line x1="125.2" y1="287.7" x2="125.2" y2="289.7"/><line x1="125.2" y1="90.7" x2="125.2" y2="92.3"/><line x1="132.9" y1="287.7" x2="132.9" y2="291.7"/><line x1="132.9" y1="90.7" x2="132.9" y2="93.9"/><line x1="140.6" y1="287.7" x2="140.6" y2="289.7"/><line x1="140.6" y1="90.7" x2="140.6" y2="92.3"/><line x1="148.3" y1="287.7" x2="148.3" y2="289.7"/><line x1="148.3" y1="90.7" x2="148.3" y2="92.3"/><line x1="156.1" y1="287.7" x2="156.1" y2="289.7"/><line x1="156.1" y1="90.7" x2="156.1" y2="92.3"/><line x1="163.8" y1="287.7" x2="163.8" y2="289.7"/><line x1="163.8" y1="90.7" x2="163.8" y2="92.3"/><line x1="171.5" y1="287.7" x2="171.5" y2="291.7"/><line x1="171.5" y1="90.7" x2="171.5" y2="93.9"/><line x1="179.2" y1="287.7" x2="179.2" y2="289.7"/><line x1="179.2" y1="90.7" x2="179.2" y2="92.3"/><line x1="186.9" y1="287.7" x2="186.9" y2="289.7"/><line x1="186.9" y1="90.7" x2="186.9" y2="92.3"/><line x1="194.6" y1="287.7" x2="194.6" y2="289.7"/><line x1="194.6" y1="90.7" x2="194.6" y2="92.3"/><line x1="202.3" y1="287.7" x2="202.3" y2="289.7"/><line x1="202.3" y1="90.7" x2="202.3" y2="92.3"/><line x1="210.0" y1="287.7" x2="210.0" y2="291.7"/><line x1="210.0" y1="90.7" x2="210.0" y2="93.9"/><line x1="217.8" y1="287.7" x2="217.8" y2="289.7"/><line x1="217.8" y1="90.7" x2="217.8" y2="92.3"/><line x1="225.5" y1="287.7" x2="225.5" y2="289.7"/><line x1="225.5" y1="90.7" x2="225.5" y2="92.3"/><line x1="233.2" y1="287.7" x2="233.2" y2="289.7"/><line x1="233.2" y1="90.7" x2="233.2" y2="92.3"/><line x1="240.9" y1="287.7" x2="240.9" y2="289.7"/><line x1="240.9" y1="90.7" x2="240.9" y2="92.3"/><line x1="248.6" y1="287.7" x2="248.6" y2="291.7"/><line x1="248.6" y1="90.7" x2="248.6" y2="93.9"/><line x1="51.8" y1="287.7" x2="55.8" y2="287.7"/><line x1="245.4" y1="287.7" x2="248.6" y2="287.7"/><line x1="53.8" y1="280.3" x2="55.8" y2="280.3"/><line x1="247.0" y1="280.3" x2="248.6" y2="280.3"/><line x1="53.8" y1="272.9" x2="55.8" y2="272.9"/><line x1="247.0" y1="272.9" x2="248.6" y2="272.9"/><line x1="53.8" y1="265.5" x2="55.8" y2="265.5"/><line x1="247.0" y1="265.5" x2="248.6" y2="265.5"/><line x1="51.8" y1="258.1" x2="55.8" y2="258.1"/><line x1="245.4" y1="258.1" x2="248.6" y2="258.1"/><line x1="53.8" y1="250.7" x2="55.8" y2="250.7"/><line x1="247.0" y1="250.7" x2="248.6" y2="250.7"/><line x1="53.8" y1="243.2" x2="55.8" y2="243.2"/><line x1="247.0" y1="243.2" x2="248.6" y2="243.2"/><line x1="53.8" y1="235.8" x2="55.8" y2="235.8"/><line x1="247.0" y1="235.8" x2="248.6" y2="235.8"/><line x1="51.8" y1="228.4" x2="55.8" y2="228.4"/><line x1="245.4" y1="228.4" x2="248.6" y2="228.4"/><line x1="53.8" y1="221.0" x2="55.8" y2="221.0"/><line x1="247.0" y1="221.0" x2="248.6" y2="221.0"/><line x1="53.8" y1="213.6" x2="55.8" y2="213.6"/><line x1="247.0" y1="213.6" x2="248.6" y2="213.6"/><line x1="53.8" y1="206.2" x2="55.8" y2="206.2"/><line x1="247.0" y1="206.2" x2="248.6" y2="206.2"/><line x1="51.8" y1="198.8" x2="55.8" y2="198.8"/><line x1="245.4" y1="198.8" x2="248.6" y2="198.8"/><line x1="53.8" y1="191.4" x2="55.8" y2="191.4"/><line x1="247.0" y1="191.4" x2="248.6" y2="191.4"/><line x1="53.8" y1="184.0" x2="55.8" y2="184.0"/><line x1="247.0" y1="184.0" x2="248.6" y2="184.0"/><line x1="53.8" y1="176.6" x2="55.8" y2="176.6"/><line x1="247.0" y1="176.6" x2="248.6" y2="176.6"/><line x1="51.8" y1="169.2" x2="55.8" y2="169.2"/><line x1="245.4" y1="169.2" x2="248.6" y2="169.2"/><line x1="53.8" y1="161.8" x2="55.8" y2="161.8"/><line x1="247.0" y1="161.8" x2="248.6" y2="161.8"/><line x1="53.8" y1="154.3" x2="55.8" y2="154.3"/><line x1="247.0" y1="154.3" x2="248.6" y2="154.3"/><line x1="53.8" y1="146.9" x2="55.8" y2="146.9"/><line x1="247.0" y1="146.9" x2="248.6" y2="146.9"/><line x1="51.8" y1="139.5" x2="55.8" y2="139.5"/><line x1="245.4" y1="139.5" x2="248.6" y2="139.5"/><line x1="53.8" y1="132.1" x2="55.8" y2="132.1"/><line x1="247.0" y1="132.1" x2="248.6" y2="132.1"/><line x1="53.8" y1="124.7" x2="55.8" y2="124.7"/><line x1="247.0" y1="124.7" x2="248.6" y2="124.7"/><line x1="53.8" y1="117.3" x2="55.8" y2="117.3"/><line x1="247.0" y1="117.3" x2="248.6" y2="117.3"/><line x1="51.8" y1="109.9" x2="55.8" y2="109.9"/><line x1="245.4" y1="109.9" x2="248.6" y2="109.9"/><line x1="53.8" y1="102.5" x2="55.8" y2="102.5"/><line x1="247.0" y1="102.5" x2="248.6" y2="102.5"/><line x1="53.8" y1="95.1" x2="55.8" y2="95.1"/><line x1="247.0" y1="95.1" x2="248.6" y2="95.1"/></g>
<text x="55.8" y="305.5" font-size="8.8" text-anchor="middle" font-weight="normal" fill="#000" style="white-space:pre" >0</text>
<text x="94.4" y="305.5" font-size="8.8" text-anchor="middle" font-weight="normal" fill="#000" style="white-space:pre" >100</text>
<text x="132.9" y="305.5" font-size="8.8" text-anchor="middle" font-weight="normal" fill="#000" style="white-space:pre" >200</text>
<text x="171.5" y="305.5" font-size="8.8" text-anchor="middle" font-weight="normal" fill="#000" style="white-space:pre" >300</text>
<text x="210.0" y="305.5" font-size="8.8" text-anchor="middle" font-weight="normal" fill="#000" style="white-space:pre" >400</text>
<text x="248.6" y="305.5" font-size="8.8" text-anchor="middle" font-weight="normal" fill="#000" style="white-space:pre" >500</text>
<text x="45.2" y="290.9" font-size="8.8" text-anchor="end" font-weight="normal" fill="#000" style="white-space:pre" >0</text>
<text x="45.2" y="261.3" font-size="8.8" text-anchor="end" font-weight="normal" fill="#000" style="white-space:pre" >2000</text>
<text x="45.2" y="231.6" font-size="8.8" text-anchor="end" font-weight="normal" fill="#000" style="white-space:pre" >4000</text>
<text x="45.2" y="202.0" font-size="8.8" text-anchor="end" font-weight="normal" fill="#000" style="white-space:pre" >6000</text>
<text x="45.2" y="172.4" font-size="8.8" text-anchor="end" font-weight="normal" fill="#000" style="white-space:pre" >8000</text>
<text x="45.2" y="142.7" font-size="8.8" text-anchor="end" font-weight="normal" fill="#000" style="white-space:pre" >10000</text>
<text x="45.2" y="113.1" font-size="8.8" text-anchor="end" font-weight="normal" fill="#000" style="white-space:pre" >12000</text>
<text x="153.0" y="321.4" font-size="11.15" text-anchor="middle" font-weight="normal" fill="#000" style="white-space:pre" >Dust Concentration (µgr/m<tspan dy="-4" font-size="7.5">3</tspan><tspan dy="4">)</tspan></text>
<text transform="translate(13.4,191.4) rotate(-90)" font-size="11.1" text-anchor="middle">Height (m)</text>
<polyline points="55.8,104.0 55.8,118.0 57.0,132.1 61.2,146.2 65.4,160.3 61.6,174.4 57.3,188.7 66.6,203.2 110.9,217.3 147.2,231.7 155.3,243.0 153.0,250.7 159.1,258.1 179.2,264.7 199.6,270.2 216.2,273.6 219.3,276.6 216.6,279.4 219.7,281.3 222.8,282.8 225.5,283.7" fill="none" stroke="#c0504d" stroke-width="1"/>
<g fill="#000"><circle cx="55.8" cy="104.0" r="1.7"/><circle cx="55.8" cy="118.0" r="1.7"/><circle cx="57.0" cy="132.1" r="1.7"/><circle cx="61.2" cy="146.2" r="1.7"/><circle cx="65.4" cy="160.3" r="1.7"/><circle cx="61.6" cy="174.4" r="1.7"/><circle cx="57.3" cy="188.7" r="1.7"/><circle cx="66.6" cy="203.2" r="1.7"/><circle cx="110.9" cy="217.3" r="1.7"/><circle cx="147.2" cy="231.7" r="1.7"/><circle cx="155.3" cy="243.0" r="1.7"/><circle cx="153.0" cy="250.7" r="1.7"/><circle cx="159.1" cy="258.1" r="1.7"/><circle cx="179.2" cy="264.7" r="1.7"/><circle cx="199.6" cy="270.2" r="1.7"/><circle cx="216.2" cy="273.6" r="1.7"/><circle cx="219.3" cy="276.6" r="1.7"/><circle cx="216.6" cy="279.4" r="1.7"/><circle cx="219.7" cy="281.3" r="1.7"/><circle cx="222.8" cy="282.8" r="1.7"/><circle cx="225.5" cy="283.7" r="1.7"/></g>
<rect x="92.9" y="97.8" width="152.1" height="52.89999999999999" rx="8" ry="8" fill="#bfbfbf"/>
<text x="167.75" y="112.8" font-size="13.5" text-anchor="middle" font-weight="bold" fill="#000" style="white-space:pre" >Καλαμάτα</text>
<text x="168.64999999999998" y="129.1" font-size="11.1" text-anchor="middle" font-weight="bold" fill="#000" style="white-space:pre" >Εκτιμώμενες</text>
<text x="168.64999999999998" y="144.4" font-size="11.6" text-anchor="middle" font-weight="bold" fill="#000" textLength="143.4" lengthAdjust="spacingAndGlyphs" style="white-space:pre" >συγκεντρώσεις  καθ’ ύψος</text>
<rect x="0" y="346.7" width="253" height="223.3" fill="#fff"/>
<g stroke="#c8c8c8" stroke-width="0.7" stroke-dasharray="1 1.6"><line x1="91.1" y1="347.6" x2="91.1" y2="545.7"/><line x1="129.8" y1="347.6" x2="129.8" y2="545.7"/><line x1="168.5" y1="347.6" x2="168.5" y2="545.7"/><line x1="207.2" y1="347.6" x2="207.2" y2="545.7"/><line x1="52.4" y1="515.9" x2="245.9" y2="515.9"/><line x1="52.4" y1="486.0" x2="245.9" y2="486.0"/><line x1="52.4" y1="456.2" x2="245.9" y2="456.2"/><line x1="52.4" y1="426.4" x2="245.9" y2="426.4"/><line x1="52.4" y1="396.5" x2="245.9" y2="396.5"/><line x1="52.4" y1="366.7" x2="245.9" y2="366.7"/></g>
<rect x="52.4" y="347.6" width="193.5" height="198.10000000000002" fill="none" stroke="#8a8a8a" stroke-width="1"/>
<g stroke="#777" stroke-width="0.8"><line x1="52.4" y1="545.7" x2="52.4" y2="549.7"/><line x1="52.4" y1="347.6" x2="52.4" y2="350.8"/><line x1="60.1" y1="545.7" x2="60.1" y2="547.7"/><line x1="60.1" y1="347.6" x2="60.1" y2="349.20000000000005"/><line x1="67.9" y1="545.7" x2="67.9" y2="547.7"/><line x1="67.9" y1="347.6" x2="67.9" y2="349.20000000000005"/><line x1="75.6" y1="545.7" x2="75.6" y2="547.7"/><line x1="75.6" y1="347.6" x2="75.6" y2="349.20000000000005"/><line x1="83.4" y1="545.7" x2="83.4" y2="547.7"/><line x1="83.4" y1="347.6" x2="83.4" y2="349.20000000000005"/><line x1="91.1" y1="545.7" x2="91.1" y2="549.7"/><line x1="91.1" y1="347.6" x2="91.1" y2="350.8"/><line x1="98.8" y1="545.7" x2="98.8" y2="547.7"/><line x1="98.8" y1="347.6" x2="98.8" y2="349.20000000000005"/><line x1="106.6" y1="545.7" x2="106.6" y2="547.7"/><line x1="106.6" y1="347.6" x2="106.6" y2="349.20000000000005"/><line x1="114.3" y1="545.7" x2="114.3" y2="547.7"/><line x1="114.3" y1="347.6" x2="114.3" y2="349.20000000000005"/><line x1="122.1" y1="545.7" x2="122.1" y2="547.7"/><line x1="122.1" y1="347.6" x2="122.1" y2="349.20000000000005"/><line x1="129.8" y1="545.7" x2="129.8" y2="549.7"/><line x1="129.8" y1="347.6" x2="129.8" y2="350.8"/><line x1="137.5" y1="545.7" x2="137.5" y2="547.7"/><line x1="137.5" y1="347.6" x2="137.5" y2="349.20000000000005"/><line x1="145.3" y1="545.7" x2="145.3" y2="547.7"/><line x1="145.3" y1="347.6" x2="145.3" y2="349.20000000000005"/><line x1="153.0" y1="545.7" x2="153.0" y2="547.7"/><line x1="153.0" y1="347.6" x2="153.0" y2="349.20000000000005"/><line x1="160.8" y1="545.7" x2="160.8" y2="547.7"/><line x1="160.8" y1="347.6" x2="160.8" y2="349.20000000000005"/><line x1="168.5" y1="545.7" x2="168.5" y2="549.7"/><line x1="168.5" y1="347.6" x2="168.5" y2="350.8"/><line x1="176.2" y1="545.7" x2="176.2" y2="547.7"/><line x1="176.2" y1="347.6" x2="176.2" y2="349.20000000000005"/><line x1="184.0" y1="545.7" x2="184.0" y2="547.7"/><line x1="184.0" y1="347.6" x2="184.0" y2="349.20000000000005"/><line x1="191.7" y1="545.7" x2="191.7" y2="547.7"/><line x1="191.7" y1="347.6" x2="191.7" y2="349.20000000000005"/><line x1="199.5" y1="545.7" x2="199.5" y2="547.7"/><line x1="199.5" y1="347.6" x2="199.5" y2="349.20000000000005"/><line x1="207.2" y1="545.7" x2="207.2" y2="549.7"/><line x1="207.2" y1="347.6" x2="207.2" y2="350.8"/><line x1="214.9" y1="545.7" x2="214.9" y2="547.7"/><line x1="214.9" y1="347.6" x2="214.9" y2="349.20000000000005"/><line x1="222.7" y1="545.7" x2="222.7" y2="547.7"/><line x1="222.7" y1="347.6" x2="222.7" y2="349.20000000000005"/><line x1="230.4" y1="545.7" x2="230.4" y2="547.7"/><line x1="230.4" y1="347.6" x2="230.4" y2="349.20000000000005"/><line x1="238.2" y1="545.7" x2="238.2" y2="547.7"/><line x1="238.2" y1="347.6" x2="238.2" y2="349.20000000000005"/><line x1="245.9" y1="545.7" x2="245.9" y2="549.7"/><line x1="245.9" y1="347.6" x2="245.9" y2="350.8"/><line x1="48.4" y1="545.7" x2="52.4" y2="545.7"/><line x1="242.70000000000002" y1="545.7" x2="245.9" y2="545.7"/><line x1="50.4" y1="538.2" x2="52.4" y2="538.2"/><line x1="244.3" y1="538.2" x2="245.9" y2="538.2"/><line x1="50.4" y1="530.8" x2="52.4" y2="530.8"/><line x1="244.3" y1="530.8" x2="245.9" y2="530.8"/><line x1="50.4" y1="523.3" x2="52.4" y2="523.3"/><line x1="244.3" y1="523.3" x2="245.9" y2="523.3"/><line x1="48.4" y1="515.9" x2="52.4" y2="515.9"/><line x1="242.70000000000002" y1="515.9" x2="245.9" y2="515.9"/><line x1="50.4" y1="508.4" x2="52.4" y2="508.4"/><line x1="244.3" y1="508.4" x2="245.9" y2="508.4"/><line x1="50.4" y1="501.0" x2="52.4" y2="501.0"/><line x1="244.3" y1="501.0" x2="245.9" y2="501.0"/><line x1="50.4" y1="493.5" x2="52.4" y2="493.5"/><line x1="244.3" y1="493.5" x2="245.9" y2="493.5"/><line x1="48.4" y1="486.0" x2="52.4" y2="486.0"/><line x1="242.70000000000002" y1="486.0" x2="245.9" y2="486.0"/><line x1="50.4" y1="478.6" x2="52.4" y2="478.6"/><line x1="244.3" y1="478.6" x2="245.9" y2="478.6"/><line x1="50.4" y1="471.1" x2="52.4" y2="471.1"/><line x1="244.3" y1="471.1" x2="245.9" y2="471.1"/><line x1="50.4" y1="463.7" x2="52.4" y2="463.7"/><line x1="244.3" y1="463.7" x2="245.9" y2="463.7"/><line x1="48.4" y1="456.2" x2="52.4" y2="456.2"/><line x1="242.70000000000002" y1="456.2" x2="245.9" y2="456.2"/><line x1="50.4" y1="448.7" x2="52.4" y2="448.7"/><line x1="244.3" y1="448.7" x2="245.9" y2="448.7"/><line x1="50.4" y1="441.3" x2="52.4" y2="441.3"/><line x1="244.3" y1="441.3" x2="245.9" y2="441.3"/><line x1="50.4" y1="433.8" x2="52.4" y2="433.8"/><line x1="244.3" y1="433.8" x2="245.9" y2="433.8"/><line x1="48.4" y1="426.4" x2="52.4" y2="426.4"/><line x1="242.70000000000002" y1="426.4" x2="245.9" y2="426.4"/><line x1="50.4" y1="418.9" x2="52.4" y2="418.9"/><line x1="244.3" y1="418.9" x2="245.9" y2="418.9"/><line x1="50.4" y1="411.4" x2="52.4" y2="411.4"/><line x1="244.3" y1="411.4" x2="245.9" y2="411.4"/><line x1="50.4" y1="404.0" x2="52.4" y2="404.0"/><line x1="244.3" y1="404.0" x2="245.9" y2="404.0"/><line x1="48.4" y1="396.5" x2="52.4" y2="396.5"/><line x1="242.70000000000002" y1="396.5" x2="245.9" y2="396.5"/><line x1="50.4" y1="389.1" x2="52.4" y2="389.1"/><line x1="244.3" y1="389.1" x2="245.9" y2="389.1"/><line x1="50.4" y1="381.6" x2="52.4" y2="381.6"/><line x1="244.3" y1="381.6" x2="245.9" y2="381.6"/><line x1="50.4" y1="374.2" x2="52.4" y2="374.2"/><line x1="244.3" y1="374.2" x2="245.9" y2="374.2"/><line x1="48.4" y1="366.7" x2="52.4" y2="366.7"/><line x1="242.70000000000002" y1="366.7" x2="245.9" y2="366.7"/><line x1="50.4" y1="359.2" x2="52.4" y2="359.2"/><line x1="244.3" y1="359.2" x2="245.9" y2="359.2"/><line x1="50.4" y1="351.8" x2="52.4" y2="351.8"/><line x1="244.3" y1="351.8" x2="245.9" y2="351.8"/></g>
<text x="52.4" y="563.5" font-size="8.8" text-anchor="middle" font-weight="normal" fill="#000" style="white-space:pre" >0</text>
<text x="91.1" y="563.5" font-size="8.8" text-anchor="middle" font-weight="normal" fill="#000" style="white-space:pre" >100</text>
<text x="129.8" y="563.5" font-size="8.8" text-anchor="middle" font-weight="normal" fill="#000" style="white-space:pre" >200</text>
<text x="168.5" y="563.5" font-size="8.8" text-anchor="middle" font-weight="normal" fill="#000" style="white-space:pre" >300</text>
<text x="207.2" y="563.5" font-size="8.8" text-anchor="middle" font-weight="normal" fill="#000" style="white-space:pre" >400</text>
<text x="245.9" y="563.5" font-size="8.8" text-anchor="middle" font-weight="normal" fill="#000" style="white-space:pre" >500</text>
<text x="41.8" y="548.9" font-size="8.8" text-anchor="end" font-weight="normal" fill="#000" style="white-space:pre" >0</text>
<text x="41.8" y="519.1" font-size="8.8" text-anchor="end" font-weight="normal" fill="#000" style="white-space:pre" >2000</text>
<text x="41.8" y="489.2" font-size="8.8" text-anchor="end" font-weight="normal" fill="#000" style="white-space:pre" >4000</text>
<text x="41.8" y="459.4" font-size="8.8" text-anchor="end" font-weight="normal" fill="#000" style="white-space:pre" >6000</text>
<text x="41.8" y="429.6" font-size="8.8" text-anchor="end" font-weight="normal" fill="#000" style="white-space:pre" >8000</text>
<text x="41.8" y="399.7" font-size="8.8" text-anchor="end" font-weight="normal" fill="#000" style="white-space:pre" >10000</text>
<text x="41.8" y="369.9" font-size="8.8" text-anchor="end" font-weight="normal" fill="#000" style="white-space:pre" >12000</text>
<text x="150.0" y="579.4000000000001" font-size="11.15" text-anchor="middle" font-weight="normal" fill="#000" style="white-space:pre" >Dust Concentration (µgr/m<tspan dy="-4" font-size="7.5">3</tspan><tspan dy="4">)</tspan></text>
<text transform="translate(10.3,448.9) rotate(-90)" font-size="11.1" text-anchor="middle">Height (m)</text>
<polyline points="52.4,361.5 53.2,375.6 57.8,389.8 61.7,404.0 63.2,418.5 78.7,433.1 97.7,447.2 117.0,461.9 139.9,476.3 149.5,490.8 142.2,502.0 137.9,509.9 137.9,517.4 141.8,524.4 146.8,530.0 154.6,533.5 170.8,536.8 184.8,539.0 192.5,541.2 194.0,542.7 195.2,543.6" fill="none" stroke="#c0504d" stroke-width="1"/>
<g fill="#000"><circle cx="52.4" cy="361.5" r="1.7"/><circle cx="53.2" cy="375.6" r="1.7"/><circle cx="57.8" cy="389.8" r="1.7"/><circle cx="61.7" cy="404.0" r="1.7"/><circle cx="63.2" cy="418.5" r="1.7"/><circle cx="78.7" cy="433.1" r="1.7"/><circle cx="97.7" cy="447.2" r="1.7"/><circle cx="117.0" cy="461.9" r="1.7"/><circle cx="139.9" cy="476.3" r="1.7"/><circle cx="149.5" cy="490.8" r="1.7"/><circle cx="142.2" cy="502.0" r="1.7"/><circle cx="137.9" cy="509.9" r="1.7"/><circle cx="137.9" cy="517.4" r="1.7"/><circle cx="141.8" cy="524.4" r="1.7"/><circle cx="146.8" cy="530.0" r="1.7"/><circle cx="154.6" cy="533.5" r="1.7"/><circle cx="170.8" cy="536.8" r="1.7"/><circle cx="184.8" cy="539.0" r="1.7"/><circle cx="192.5" cy="541.2" r="1.7"/><circle cx="194.0" cy="542.7" r="1.7"/><circle cx="195.2" cy="543.6" r="1.7"/></g>
<rect x="91" y="354" width="152.6" height="51.69999999999999" rx="8" ry="8" fill="#bfbfbf"/>
<text x="166.10000000000002" y="369.0" font-size="13.5" text-anchor="middle" font-weight="bold" fill="#000" style="white-space:pre" >Ηράκλειο</text>
<text x="167.0" y="385.3" font-size="11.1" text-anchor="middle" font-weight="bold" fill="#000" style="white-space:pre" >Εκτιμώμενες</text>
<text x="167.0" y="400.6" font-size="11.6" text-anchor="middle" font-weight="bold" fill="#000" textLength="143.4" lengthAdjust="spacingAndGlyphs" style="white-space:pre" >συγκεντρώσεις  καθ’ ύψος</text>
<rect x="561.2" y="70.6" width="251.29999999999995" height="233.00000000000003" fill="#fff"/>
<g stroke="#c8c8c8" stroke-width="0.7" stroke-dasharray="1 1.6"><line x1="651.3" y1="70.9" x2="651.3" y2="267.6"/><line x1="690.0" y1="70.9" x2="690.0" y2="267.6"/><line x1="728.6" y1="70.9" x2="728.6" y2="267.6"/><line x1="767.3" y1="70.9" x2="767.3" y2="267.6"/><line x1="612.7" y1="238.0" x2="805.9" y2="238.0"/><line x1="612.7" y1="208.4" x2="805.9" y2="208.4"/><line x1="612.7" y1="178.9" x2="805.9" y2="178.9"/><line x1="612.7" y1="149.3" x2="805.9" y2="149.3"/><line x1="612.7" y1="119.7" x2="805.9" y2="119.7"/><line x1="612.7" y1="90.1" x2="805.9" y2="90.1"/></g>
<rect x="612.7" y="70.9" width="193.19999999999993" height="196.70000000000002" fill="none" stroke="#8a8a8a" stroke-width="1"/>
<g stroke="#777" stroke-width="0.8"><line x1="612.7" y1="267.6" x2="612.7" y2="271.6"/><line x1="612.7" y1="70.9" x2="612.7" y2="74.10000000000001"/><line x1="620.4" y1="267.6" x2="620.4" y2="269.6"/><line x1="620.4" y1="70.9" x2="620.4" y2="72.5"/><line x1="628.2" y1="267.6" x2="628.2" y2="269.6"/><line x1="628.2" y1="70.9" x2="628.2" y2="72.5"/><line x1="635.9" y1="267.6" x2="635.9" y2="269.6"/><line x1="635.9" y1="70.9" x2="635.9" y2="72.5"/><line x1="643.6" y1="267.6" x2="643.6" y2="269.6"/><line x1="643.6" y1="70.9" x2="643.6" y2="72.5"/><line x1="651.3" y1="267.6" x2="651.3" y2="271.6"/><line x1="651.3" y1="70.9" x2="651.3" y2="74.10000000000001"/><line x1="659.1" y1="267.6" x2="659.1" y2="269.6"/><line x1="659.1" y1="70.9" x2="659.1" y2="72.5"/><line x1="666.8" y1="267.6" x2="666.8" y2="269.6"/><line x1="666.8" y1="70.9" x2="666.8" y2="72.5"/><line x1="674.5" y1="267.6" x2="674.5" y2="269.6"/><line x1="674.5" y1="70.9" x2="674.5" y2="72.5"/><line x1="682.3" y1="267.6" x2="682.3" y2="269.6"/><line x1="682.3" y1="70.9" x2="682.3" y2="72.5"/><line x1="690.0" y1="267.6" x2="690.0" y2="271.6"/><line x1="690.0" y1="70.9" x2="690.0" y2="74.10000000000001"/><line x1="697.7" y1="267.6" x2="697.7" y2="269.6"/><line x1="697.7" y1="70.9" x2="697.7" y2="72.5"/><line x1="705.4" y1="267.6" x2="705.4" y2="269.6"/><line x1="705.4" y1="70.9" x2="705.4" y2="72.5"/><line x1="713.2" y1="267.6" x2="713.2" y2="269.6"/><line x1="713.2" y1="70.9" x2="713.2" y2="72.5"/><line x1="720.9" y1="267.6" x2="720.9" y2="269.6"/><line x1="720.9" y1="70.9" x2="720.9" y2="72.5"/><line x1="728.6" y1="267.6" x2="728.6" y2="271.6"/><line x1="728.6" y1="70.9" x2="728.6" y2="74.10000000000001"/><line x1="736.3" y1="267.6" x2="736.3" y2="269.6"/><line x1="736.3" y1="70.9" x2="736.3" y2="72.5"/><line x1="744.1" y1="267.6" x2="744.1" y2="269.6"/><line x1="744.1" y1="70.9" x2="744.1" y2="72.5"/><line x1="751.8" y1="267.6" x2="751.8" y2="269.6"/><line x1="751.8" y1="70.9" x2="751.8" y2="72.5"/><line x1="759.5" y1="267.6" x2="759.5" y2="269.6"/><line x1="759.5" y1="70.9" x2="759.5" y2="72.5"/><line x1="767.3" y1="267.6" x2="767.3" y2="271.6"/><line x1="767.3" y1="70.9" x2="767.3" y2="74.10000000000001"/><line x1="775.0" y1="267.6" x2="775.0" y2="269.6"/><line x1="775.0" y1="70.9" x2="775.0" y2="72.5"/><line x1="782.7" y1="267.6" x2="782.7" y2="269.6"/><line x1="782.7" y1="70.9" x2="782.7" y2="72.5"/><line x1="790.4" y1="267.6" x2="790.4" y2="269.6"/><line x1="790.4" y1="70.9" x2="790.4" y2="72.5"/><line x1="798.2" y1="267.6" x2="798.2" y2="269.6"/><line x1="798.2" y1="70.9" x2="798.2" y2="72.5"/><line x1="805.9" y1="267.6" x2="805.9" y2="271.6"/><line x1="805.9" y1="70.9" x2="805.9" y2="74.10000000000001"/><line x1="608.7" y1="267.6" x2="612.7" y2="267.6"/><line x1="802.6999999999999" y1="267.6" x2="805.9" y2="267.6"/><line x1="610.7" y1="260.2" x2="612.7" y2="260.2"/><line x1="804.3" y1="260.2" x2="805.9" y2="260.2"/><line x1="610.7" y1="252.8" x2="612.7" y2="252.8"/><line x1="804.3" y1="252.8" x2="805.9" y2="252.8"/><line x1="610.7" y1="245.4" x2="612.7" y2="245.4"/><line x1="804.3" y1="245.4" x2="805.9" y2="245.4"/><line x1="608.7" y1="238.0" x2="612.7" y2="238.0"/><line x1="802.6999999999999" y1="238.0" x2="805.9" y2="238.0"/><line x1="610.7" y1="230.6" x2="612.7" y2="230.6"/><line x1="804.3" y1="230.6" x2="805.9" y2="230.6"/><line x1="610.7" y1="223.2" x2="612.7" y2="223.2"/><line x1="804.3" y1="223.2" x2="805.9" y2="223.2"/><line x1="610.7" y1="215.8" x2="612.7" y2="215.8"/><line x1="804.3" y1="215.8" x2="805.9" y2="215.8"/><line x1="608.7" y1="208.4" x2="612.7" y2="208.4"/><line x1="802.6999999999999" y1="208.4" x2="805.9" y2="208.4"/><line x1="610.7" y1="201.0" x2="612.7" y2="201.0"/><line x1="804.3" y1="201.0" x2="805.9" y2="201.0"/><line x1="610.7" y1="193.6" x2="612.7" y2="193.6"/><line x1="804.3" y1="193.6" x2="805.9" y2="193.6"/><line x1="610.7" y1="186.2" x2="612.7" y2="186.2"/><line x1="804.3" y1="186.2" x2="805.9" y2="186.2"/><line x1="608.7" y1="178.9" x2="612.7" y2="178.9"/><line x1="802.6999999999999" y1="178.9" x2="805.9" y2="178.9"/><line x1="610.7" y1="171.5" x2="612.7" y2="171.5"/><line x1="804.3" y1="171.5" x2="805.9" y2="171.5"/><line x1="610.7" y1="164.1" x2="612.7" y2="164.1"/><line x1="804.3" y1="164.1" x2="805.9" y2="164.1"/><line x1="610.7" y1="156.7" x2="612.7" y2="156.7"/><line x1="804.3" y1="156.7" x2="805.9" y2="156.7"/><line x1="608.7" y1="149.3" x2="612.7" y2="149.3"/><line x1="802.6999999999999" y1="149.3" x2="805.9" y2="149.3"/><line x1="610.7" y1="141.9" x2="612.7" y2="141.9"/><line x1="804.3" y1="141.9" x2="805.9" y2="141.9"/><line x1="610.7" y1="134.5" x2="612.7" y2="134.5"/><line x1="804.3" y1="134.5" x2="805.9" y2="134.5"/><line x1="610.7" y1="127.1" x2="612.7" y2="127.1"/><line x1="804.3" y1="127.1" x2="805.9" y2="127.1"/><line x1="608.7" y1="119.7" x2="612.7" y2="119.7"/><line x1="802.6999999999999" y1="119.7" x2="805.9" y2="119.7"/><line x1="610.7" y1="112.3" x2="612.7" y2="112.3"/><line x1="804.3" y1="112.3" x2="805.9" y2="112.3"/><line x1="610.7" y1="104.9" x2="612.7" y2="104.9"/><line x1="804.3" y1="104.9" x2="805.9" y2="104.9"/><line x1="610.7" y1="97.5" x2="612.7" y2="97.5"/><line x1="804.3" y1="97.5" x2="805.9" y2="97.5"/><line x1="608.7" y1="90.1" x2="612.7" y2="90.1"/><line x1="802.6999999999999" y1="90.1" x2="805.9" y2="90.1"/><line x1="610.7" y1="82.7" x2="612.7" y2="82.7"/><line x1="804.3" y1="82.7" x2="805.9" y2="82.7"/><line x1="610.7" y1="75.3" x2="612.7" y2="75.3"/><line x1="804.3" y1="75.3" x2="805.9" y2="75.3"/></g>
<text x="612.7" y="285.40000000000003" font-size="8.8" text-anchor="middle" font-weight="normal" fill="#000" style="white-space:pre" >0</text>
<text x="651.3" y="285.40000000000003" font-size="8.8" text-anchor="middle" font-weight="normal" fill="#000" style="white-space:pre" >100</text>
<text x="690.0" y="285.40000000000003" font-size="8.8" text-anchor="middle" font-weight="normal" fill="#000" style="white-space:pre" >200</text>
<text x="728.6" y="285.40000000000003" font-size="8.8" text-anchor="middle" font-weight="normal" fill="#000" style="white-space:pre" >300</text>
<text x="767.3" y="285.40000000000003" font-size="8.8" text-anchor="middle" font-weight="normal" fill="#000" style="white-space:pre" >400</text>
<text x="805.9" y="285.40000000000003" font-size="8.8" text-anchor="middle" font-weight="normal" fill="#000" style="white-space:pre" >500</text>
<text x="602.1" y="270.8" font-size="8.8" text-anchor="end" font-weight="normal" fill="#000" style="white-space:pre" >0</text>
<text x="602.1" y="241.2" font-size="8.8" text-anchor="end" font-weight="normal" fill="#000" style="white-space:pre" >2000</text>
<text x="602.1" y="211.6" font-size="8.8" text-anchor="end" font-weight="normal" fill="#000" style="white-space:pre" >4000</text>
<text x="602.1" y="182.1" font-size="8.8" text-anchor="end" font-weight="normal" fill="#000" style="white-space:pre" >6000</text>
<text x="602.1" y="152.5" font-size="8.8" text-anchor="end" font-weight="normal" fill="#000" style="white-space:pre" >8000</text>
<text x="602.1" y="122.9" font-size="8.8" text-anchor="end" font-weight="normal" fill="#000" style="white-space:pre" >10000</text>
<text x="602.1" y="93.3" font-size="8.8" text-anchor="end" font-weight="normal" fill="#000" style="white-space:pre" >12000</text>
<text x="710.1" y="301.3" font-size="11.15" text-anchor="middle" font-weight="normal" fill="#000" style="white-space:pre" >Dust Concentration (µgr/m<tspan dy="-4" font-size="7.5">3</tspan><tspan dy="4">)</tspan></text>
<text transform="translate(571.4,171.4) rotate(-90)" font-size="11.1" text-anchor="middle">Height (m)</text>
<polyline points="612.7,84.9 612.7,99.0 612.7,113.0 612.7,127.1 612.7,141.1 612.7,155.5 612.7,169.2 613.1,183.6 616.2,198.1 625.5,212.4 649.4,223.5 679.5,231.1 712.0,238.3 744.5,245.4 754.9,250.9 733.6,254.3 717.8,257.2 717.0,259.8 707.4,261.4 693.5,263.0 691.9,263.9" fill="none" stroke="#c0504d" stroke-width="1"/>
<g fill="#000"><circle cx="612.7" cy="84.9" r="1.7"/><circle cx="612.7" cy="99.0" r="1.7"/><circle cx="612.7" cy="113.0" r="1.7"/><circle cx="612.7" cy="127.1" r="1.7"/><circle cx="612.7" cy="141.1" r="1.7"/><circle cx="612.7" cy="155.5" r="1.7"/><circle cx="612.7" cy="169.2" r="1.7"/><circle cx="613.1" cy="183.6" r="1.7"/><circle cx="616.2" cy="198.1" r="1.7"/><circle cx="625.5" cy="212.4" r="1.7"/><circle cx="649.4" cy="223.5" r="1.7"/><circle cx="679.5" cy="231.1" r="1.7"/><circle cx="712.0" cy="238.3" r="1.7"/><circle cx="744.5" cy="245.4" r="1.7"/><circle cx="754.9" cy="250.9" r="1.7"/><circle cx="733.6" cy="254.3" r="1.7"/><circle cx="717.8" cy="257.2" r="1.7"/><circle cx="717.0" cy="259.8" r="1.7"/><circle cx="707.4" cy="261.4" r="1.7"/><circle cx="693.5" cy="263.0" r="1.7"/><circle cx="691.9" cy="263.9" r="1.7"/></g>
<rect x="651.4" y="77.6" width="152.10000000000002" height="53.400000000000006" rx="8" ry="8" fill="#bfbfbf"/>
<text x="726.25" y="92.6" font-size="13.5" text-anchor="middle" font-weight="bold" fill="#000" style="white-space:pre" >Αθήνα</text>
<text x="727.1500000000001" y="108.89999999999999" font-size="11.1" text-anchor="middle" font-weight="bold" fill="#000" style="white-space:pre" >Εκτιμώμενες</text>
<text x="727.1500000000001" y="124.19999999999999" font-size="11.6" text-anchor="middle" font-weight="bold" fill="#000" textLength="143.4" lengthAdjust="spacingAndGlyphs" style="white-space:pre" >συγκεντρώσεις  καθ’ ύψος</text>
<rect x="116.5" y="3.5" width="700" height="61" fill="#40403e" fill-opacity="0.86" stroke="#000" stroke-width="3"/>
<rect x="125" y="9" width="56" height="49.7" fill="#b35c00"/>
<g fill="none" stroke="#111" stroke-width="1.2" stroke-linecap="round" stroke-linejoin="round"><path d="M164.7,25.7 C164.7,20 159.5,16.2 153.2,16.2 C147,16.2 142,20 142,24.5 C142,28 144,30 147.5,31.3 L160,35.8 C163,37 165,39.5 165,42.5 C165,47 160,50.3 153.2,50.3 C146.5,50.3 141.3,46.5 141.3,41.4"/><path d="M139.2,24.1 H152.8 M150,21.3 L152.8,24.1 L150,27.2"/><path d="M135,32.1 H169.6 M166.3,28.8 L169.6,32.1 L166.3,35.3"/><path d="M153.2,42.4 H172.4 M169.1,39.4 L172.4,42.4 L169.1,45.6"/></g>
<text x="466.5" y="28.3" font-size="17.3" text-anchor="middle" font-weight="bold" fill="#fff" textLength="303.5" lengthAdjust="spacingAndGlyphs" style="white-space:pre" >Παρασκευή  17 Μαΐου  2024, 21:00</text>
<text x="466.4" y="53.5" font-size="17.3" text-anchor="middle" font-weight="bold" fill="#fff" textLength="465" lengthAdjust="spacingAndGlyphs" style="white-space:pre" >Εκτιμώμενη  συγκέντρωση  σκόνης  κοντά  στο  έδαφος</text>
<rect x="828" y="4.5" width="22.5" height="46" fill="#e632a0" stroke="#5a3030" stroke-width="0.5"/>
<rect x="828" y="50.5" width="22.5" height="46" fill="#e02828" stroke="#5a3030" stroke-width="0.5"/>
<rect x="828" y="96.5" width="22.5" height="46" fill="#8c1c1c" stroke="#5a3030" stroke-width="0.5"/>
<rect x="828" y="142.5" width="22.5" height="46" fill="#b05252" stroke="#5a3030" stroke-width="0.5"/>
<rect x="828" y="188.5" width="22.5" height="46" fill="#c85c58" stroke="#5a3030" stroke-width="0.5"/>
<rect x="828" y="234.5" width="22.5" height="46" fill="#d4625e" stroke="#5a3030" stroke-width="0.5"/>
<rect x="828" y="280.5" width="22.5" height="46" fill="#d67c6a" stroke="#5a3030" stroke-width="0.5"/>
<rect x="828" y="326.5" width="22.5" height="46" fill="#d98c7e" stroke="#5a3030" stroke-width="0.5"/>
<rect x="828" y="372.5" width="22.5" height="46" fill="#e8a07c" stroke="#5a3030" stroke-width="0.5"/>
<rect x="828" y="418.5" width="22.5" height="46" fill="#f2c49a" stroke="#5a3030" stroke-width="0.5"/>
<rect x="828" y="464.5" width="22.5" height="46" fill="#f0deb4" stroke="#5a3030" stroke-width="0.5"/>
<rect x="828" y="510.5" width="22.5" height="46" fill="#ffffff" stroke="#5a3030" stroke-width="0.5"/>
<text x="853" y="64.8" font-size="19.6" text-anchor="start" font-weight="normal" fill="#000" style="white-space:pre" >1500</text>
<text x="853" y="110.8" font-size="19.6" text-anchor="start" font-weight="normal" fill="#000" style="white-space:pre" >1000</text>
<text x="853" y="156.8" font-size="19.6" text-anchor="start" font-weight="normal" fill="#000" style="white-space:pre" >500</text>
<text x="853" y="202.8" font-size="19.6" text-anchor="start" font-weight="normal" fill="#000" style="white-space:pre" >200</text>
<text x="853" y="248.8" font-size="19.6" text-anchor="start" font-weight="normal" fill="#000" style="white-space:pre" >150</text>
<text x="853" y="294.8" font-size="19.6" text-anchor="start" font-weight="normal" fill="#000" style="white-space:pre" >100</text>
<text x="853" y="340.8" font-size="19.6" text-anchor="start" font-weight="normal" fill="#000" style="white-space:pre" >75</text>
<text x="853" y="386.8" font-size="19.6" text-anchor="start" font-weight="normal" fill="#000" style="white-space:pre" >50</text>
<text x="853" y="432.8" font-size="19.6" text-anchor="start" font-weight="normal" fill="#000" style="white-space:pre" >25</text>
<text x="853" y="478.8" font-size="19.6" text-anchor="start" font-weight="normal" fill="#000" style="white-space:pre" >10</text>
<text x="853" y="524.8" font-size="19.6" text-anchor="start" font-weight="normal" fill="#000" style="white-space:pre" >5</text>
<g stroke="#555" stroke-width="1"><line x1="98" y1="33.5" x2="115" y2="33.5"/><line x1="260.5" y1="558.5" x2="260.5" y2="574.5"/><line x1="405.5" y1="558.5" x2="405.5" y2="574.5"/><line x1="549.5" y1="558.5" x2="549.5" y2="574.5"/><line x1="693.5" y1="558.5" x2="693.5" y2="574.5"/></g>
<text x="57.3" y="38.0" font-size="14.5" text-anchor="start" font-weight="normal" fill="#000" style="white-space:pre" >44°N</text>
<text x="116" y="596" font-size="14.5" text-anchor="middle" font-weight="normal" fill="#000" style="white-space:pre" >10°E</text>
<text x="260" y="596" font-size="14.5" text-anchor="middle" font-weight="normal" fill="#000" style="white-space:pre" >15°E</text>
<text x="405" y="596" font-size="14.5" text-anchor="middle" font-weight="normal" fill="#000" style="white-space:pre" >20°E</text>
<text x="549" y="596" font-size="14.5" text-anchor="middle" font-weight="normal" fill="#000" style="white-space:pre" >25°E</text>
<text x="693" y="596" font-size="14.5" text-anchor="middle" font-weight="normal" fill="#000" style="white-space:pre" >30°E</text>
<text x="48" y="636.3" font-size="18" text-anchor="start" font-weight="normal" fill="#000" style="white-space:pre" >National Observatory of Athens - meteo.gr</text>
<rect x="774.6" y="489.7" width="39.4" height="58.5" fill="#fff" stroke="#999" stroke-width="0.4"/>
<text x="794.3" y="499.6" font-size="9.5" text-anchor="middle" font-weight="normal" fill="#000" style="white-space:pre" >5 m/s</text>
<text x="794.3" y="510.1" font-size="9.5" text-anchor="middle" font-weight="normal" fill="#000" style="white-space:pre" >10 knots</text>
<path d="M786.2 528.3 H799 M803.2 528.3 L798 526.1 L798 530.5 Z" stroke="#000" stroke-width="0.9" fill="#000"/>
<path d="M763.1,590.1 L780.6,590.1 L793.8,603.2 L807.1,590.1 L824.8,590.1 L824.8,624.2 L808.5,624.2 L808.5,613.1 L799,622.5 Q793.8,626.2 788.8,622.5 L779.2,613.1 L779.2,624.2 L763.1,624.2 Z" fill="#0c0ccf"/>
<circle cx="762.8" cy="590.1" r="10.7" fill="#ffd200"/>
<text x="833" y="601" font-size="15.6" text-anchor="start" font-weight="normal" fill="#1414cc" textLength="48" lengthAdjust="spacingAndGlyphs" style="white-space:pre" >Meteo</text>
<text x="833" y="616" font-size="8.6" text-anchor="start" font-weight="normal" fill="#1414cc" textLength="33.4" lengthAdjust="spacingAndGlyphs" style="white-space:pre" >Όλα για</text>
<text x="833" y="624.4" font-size="8.6" text-anchor="start" font-weight="normal" fill="#1414cc" textLength="41" lengthAdjust="spacingAndGlyphs" style="white-space:pre" >τον καιρό</text>
</svg>
</body></html>
